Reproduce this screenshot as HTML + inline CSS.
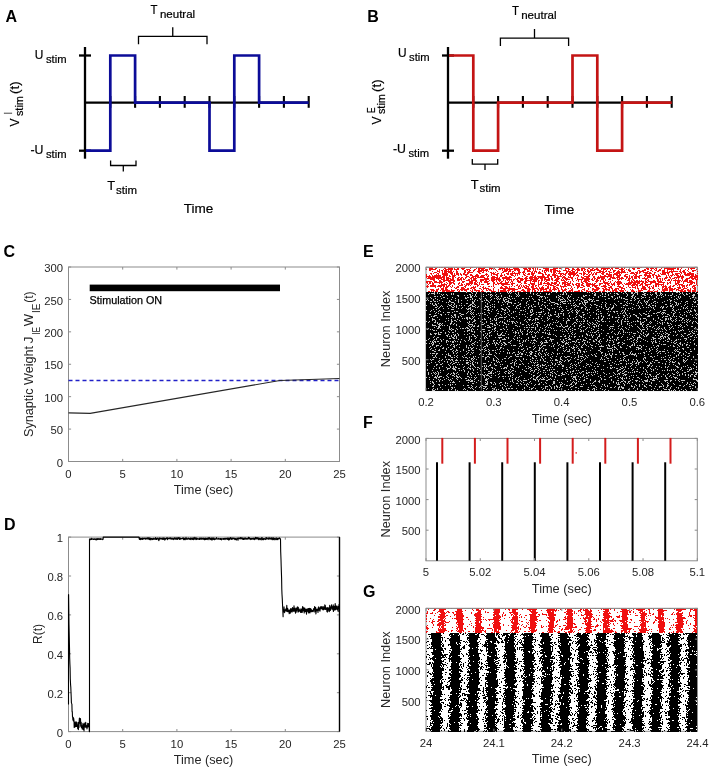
<!DOCTYPE html><html><head><meta charset="utf-8"><style>html,body{margin:0;padding:0;background:#fff;}svg{display:block;will-change:transform}text{font-family:"Liberation Sans", sans-serif;}</style></head><body><svg width="709" height="768" viewBox="0 0 709 768"><rect width="709" height="768" fill="#fff"/><line x1="85" y1="47" x2="85" y2="158.7" stroke="#000" stroke-width="2.3"/>
<line x1="85" y1="102.7" x2="308.70000000000005" y2="102.7" stroke="#000" stroke-width="2.3"/>
<line x1="79" y1="55.5" x2="91" y2="55.5" stroke="#000" stroke-width="2.3"/>
<line x1="79" y1="150.7" x2="91" y2="150.7" stroke="#000" stroke-width="2.3"/>
<line x1="110.3" y1="96" x2="110.3" y2="107.8" stroke="#000" stroke-width="2.1"/>
<line x1="135.1" y1="96" x2="135.1" y2="107.8" stroke="#000" stroke-width="2.1"/>
<line x1="159.9" y1="96" x2="159.9" y2="107.8" stroke="#000" stroke-width="2.1"/>
<line x1="184.7" y1="96" x2="184.7" y2="107.8" stroke="#000" stroke-width="2.1"/>
<line x1="209.5" y1="96" x2="209.5" y2="107.8" stroke="#000" stroke-width="2.1"/>
<line x1="234.3" y1="96" x2="234.3" y2="107.8" stroke="#000" stroke-width="2.1"/>
<line x1="259.1" y1="96" x2="259.1" y2="107.8" stroke="#000" stroke-width="2.1"/>
<line x1="283.9" y1="96" x2="283.9" y2="107.8" stroke="#000" stroke-width="2.1"/>
<line x1="308.70000000000005" y1="96" x2="308.70000000000005" y2="107.8" stroke="#000" stroke-width="2.1"/>
<path d="M86,150.7H110.3V55.5H135.1V102.7H159.9V102.7H184.7V102.7H209.5V150.7H234.3V55.5H259.1V102.7H283.9V102.7H308.70000000000005" fill="none" stroke="#0c0c98" stroke-width="2.7" stroke-linejoin="miter" stroke-linecap="butt"/>
<path d="M138.5,44.3 V36.3 H207 V44.3 M172.75,36.3 V27.299999999999997" fill="none" stroke="#000" stroke-width="1.3"/>
<path d="M110.6,160.5 V165.5 H136 V160.5 M123.3,165.5 V171.5" fill="none" stroke="#000" stroke-width="1.3"/>
<text x="5.6" y="21.5" font-size="16" font-weight="bold" fill="#000">A</text>
<g stroke="#000" stroke-width="0.2">
<text x="150.6" y="13.9" font-size="13.2" textLength="7.0" lengthAdjust="spacingAndGlyphs" fill="#000">T</text>
<text x="159.9" y="17.8" font-size="10.8" textLength="35.3" lengthAdjust="spacingAndGlyphs" fill="#000">neutral</text>
<text x="107.3" y="190.0" font-size="13.2" textLength="7.9" lengthAdjust="spacingAndGlyphs" fill="#000">T</text>
<text x="116.1" y="193.9" font-size="10.8" textLength="21" lengthAdjust="spacingAndGlyphs" fill="#000">stim</text>
<text x="183.7" y="212.8" font-size="13.6" textLength="29.6" lengthAdjust="spacingAndGlyphs" fill="#000">Time</text>
<text x="34.8" y="58.9" font-size="13" textLength="8.6" lengthAdjust="spacingAndGlyphs" fill="#000">U</text>
<text x="45.9" y="62.5" font-size="10.8" textLength="20.6" lengthAdjust="spacingAndGlyphs" fill="#000">stim</text>
<text x="30.4" y="154.2" font-size="13" textLength="13" lengthAdjust="spacingAndGlyphs" fill="#000">-U</text>
<text x="45.9" y="157.5" font-size="10.8" textLength="20.6" lengthAdjust="spacingAndGlyphs" fill="#000">stim</text>
<g transform="translate(18.75,126.6) rotate(-90)">
<text x="0" y="0" font-size="13" textLength="8" lengthAdjust="spacingAndGlyphs" fill="#000">V</text>
<text x="12.3" y="-7" font-size="10.4" textLength="2.2" lengthAdjust="spacingAndGlyphs" fill="#000">I</text>
<text x="10.5" y="4.0" font-size="10.8" textLength="20" lengthAdjust="spacingAndGlyphs" fill="#000">stim</text>
<text x="32.6" y="0" font-size="13" textLength="12.6" lengthAdjust="spacingAndGlyphs" fill="#000">(t)</text>
</g>
</g>
<line x1="448" y1="47" x2="448" y2="158.7" stroke="#000" stroke-width="2.3"/>
<line x1="448" y1="102.7" x2="671.7" y2="102.7" stroke="#000" stroke-width="2.3"/>
<line x1="442" y1="55.5" x2="454" y2="55.5" stroke="#000" stroke-width="2.3"/>
<line x1="442" y1="150.7" x2="454" y2="150.7" stroke="#000" stroke-width="2.3"/>
<line x1="473.3" y1="96" x2="473.3" y2="107.8" stroke="#000" stroke-width="2.1"/>
<line x1="498.1" y1="96" x2="498.1" y2="107.8" stroke="#000" stroke-width="2.1"/>
<line x1="522.9" y1="96" x2="522.9" y2="107.8" stroke="#000" stroke-width="2.1"/>
<line x1="547.7" y1="96" x2="547.7" y2="107.8" stroke="#000" stroke-width="2.1"/>
<line x1="572.5" y1="96" x2="572.5" y2="107.8" stroke="#000" stroke-width="2.1"/>
<line x1="597.3" y1="96" x2="597.3" y2="107.8" stroke="#000" stroke-width="2.1"/>
<line x1="622.1" y1="96" x2="622.1" y2="107.8" stroke="#000" stroke-width="2.1"/>
<line x1="646.9" y1="96" x2="646.9" y2="107.8" stroke="#000" stroke-width="2.1"/>
<line x1="671.7" y1="96" x2="671.7" y2="107.8" stroke="#000" stroke-width="2.1"/>
<path d="M449,55.5H473.3V150.7H498.1V102.7H522.9V102.7H547.7V102.7H572.5V55.5H597.3V150.7H622.1V102.7H646.9V102.7H671.7" fill="none" stroke="#c41414" stroke-width="2.7" stroke-linejoin="miter" stroke-linecap="butt"/>
<path d="M500.4,46.1 V38.1 H568.6 V46.1 M534.5,38.1 V29.1" fill="none" stroke="#000" stroke-width="1.3"/>
<path d="M472.3,159.1 V164.1 H497.7 V159.1 M485.0,164.1 V170.1" fill="none" stroke="#000" stroke-width="1.3"/>
<text x="367.2" y="21.5" font-size="16" font-weight="bold" fill="#000">B</text>
<g stroke="#000" stroke-width="0.2">
<text x="511.9" y="15.2" font-size="13.2" textLength="7.0" lengthAdjust="spacingAndGlyphs" fill="#000">T</text>
<text x="521.1999999999999" y="19.099999999999998" font-size="10.8" textLength="35.3" lengthAdjust="spacingAndGlyphs" fill="#000">neutral</text>
<text x="470.7" y="188.5" font-size="13.2" textLength="7.9" lengthAdjust="spacingAndGlyphs" fill="#000">T</text>
<text x="479.5" y="192.4" font-size="10.8" textLength="21" lengthAdjust="spacingAndGlyphs" fill="#000">stim</text>
<text x="544.6" y="214.3" font-size="13.6" textLength="29.6" lengthAdjust="spacingAndGlyphs" fill="#000">Time</text>
<text x="398.0" y="57.4" font-size="13" textLength="8.6" lengthAdjust="spacingAndGlyphs" fill="#000">U</text>
<text x="409.1" y="61.0" font-size="10.8" textLength="20.6" lengthAdjust="spacingAndGlyphs" fill="#000">stim</text>
<text x="393" y="153.3" font-size="13" textLength="13" lengthAdjust="spacingAndGlyphs" fill="#000">-U</text>
<text x="408.5" y="156.60000000000002" font-size="10.8" textLength="20.6" lengthAdjust="spacingAndGlyphs" fill="#000">stim</text>
<g transform="translate(380.8,124.6) rotate(-90)">
<text x="0" y="0" font-size="13" textLength="8" lengthAdjust="spacingAndGlyphs" fill="#000">V</text>
<text x="11.7" y="-6.2" font-size="10.4" textLength="5.6" lengthAdjust="spacingAndGlyphs" fill="#000">E</text>
<text x="10.5" y="4.0" font-size="10.8" textLength="20" lengthAdjust="spacingAndGlyphs" fill="#000">stim</text>
<text x="32.6" y="0" font-size="13" textLength="12.6" lengthAdjust="spacingAndGlyphs" fill="#000">(t)</text>
</g>
</g>
<text x="3.6" y="256.5" font-size="16" font-weight="bold" fill="#000">C</text>
<rect x="68.5" y="267.0" width="271.0" height="194.5" fill="none" stroke="#8c8c8c" stroke-width="1"/>
<line x1="68.5" y1="461.5" x2="68.5" y2="458.9" stroke="#8c8c8c" stroke-width="1"/>
<line x1="68.5" y1="267.0" x2="68.5" y2="269.6" stroke="#8c8c8c" stroke-width="1"/>
<text x="68.5" y="477.9" font-size="11.3" text-anchor="middle" fill="#262626">0</text>
<line x1="122.7" y1="461.5" x2="122.7" y2="458.9" stroke="#8c8c8c" stroke-width="1"/>
<line x1="122.7" y1="267.0" x2="122.7" y2="269.6" stroke="#8c8c8c" stroke-width="1"/>
<text x="122.7" y="477.9" font-size="11.3" text-anchor="middle" fill="#262626">5</text>
<line x1="176.9" y1="461.5" x2="176.9" y2="458.9" stroke="#8c8c8c" stroke-width="1"/>
<line x1="176.9" y1="267.0" x2="176.9" y2="269.6" stroke="#8c8c8c" stroke-width="1"/>
<text x="176.9" y="477.9" font-size="11.3" text-anchor="middle" fill="#262626">10</text>
<line x1="231.1" y1="461.5" x2="231.1" y2="458.9" stroke="#8c8c8c" stroke-width="1"/>
<line x1="231.1" y1="267.0" x2="231.1" y2="269.6" stroke="#8c8c8c" stroke-width="1"/>
<text x="231.1" y="477.9" font-size="11.3" text-anchor="middle" fill="#262626">15</text>
<line x1="285.3" y1="461.5" x2="285.3" y2="458.9" stroke="#8c8c8c" stroke-width="1"/>
<line x1="285.3" y1="267.0" x2="285.3" y2="269.6" stroke="#8c8c8c" stroke-width="1"/>
<text x="285.3" y="477.9" font-size="11.3" text-anchor="middle" fill="#262626">20</text>
<line x1="339.5" y1="461.5" x2="339.5" y2="458.9" stroke="#8c8c8c" stroke-width="1"/>
<line x1="339.5" y1="267.0" x2="339.5" y2="269.6" stroke="#8c8c8c" stroke-width="1"/>
<text x="339.5" y="477.9" font-size="11.3" text-anchor="middle" fill="#262626">25</text>
<line x1="68.5" y1="461.5" x2="71.1" y2="461.5" stroke="#8c8c8c" stroke-width="1"/>
<line x1="339.5" y1="461.5" x2="336.9" y2="461.5" stroke="#8c8c8c" stroke-width="1"/>
<text x="63.1" y="466.6" font-size="11.3" text-anchor="end" fill="#262626">0</text>
<line x1="68.5" y1="429.0833333333333" x2="71.1" y2="429.0833333333333" stroke="#8c8c8c" stroke-width="1"/>
<line x1="339.5" y1="429.0833333333333" x2="336.9" y2="429.0833333333333" stroke="#8c8c8c" stroke-width="1"/>
<text x="63.1" y="434.18" font-size="11.3" text-anchor="end" fill="#262626">50</text>
<line x1="68.5" y1="396.6666666666667" x2="71.1" y2="396.6666666666667" stroke="#8c8c8c" stroke-width="1"/>
<line x1="339.5" y1="396.6666666666667" x2="336.9" y2="396.6666666666667" stroke="#8c8c8c" stroke-width="1"/>
<text x="63.1" y="401.77" font-size="11.3" text-anchor="end" fill="#262626">100</text>
<line x1="68.5" y1="364.25" x2="71.1" y2="364.25" stroke="#8c8c8c" stroke-width="1"/>
<line x1="339.5" y1="364.25" x2="336.9" y2="364.25" stroke="#8c8c8c" stroke-width="1"/>
<text x="63.1" y="369.35" font-size="11.3" text-anchor="end" fill="#262626">150</text>
<line x1="68.5" y1="331.83333333333337" x2="71.1" y2="331.83333333333337" stroke="#8c8c8c" stroke-width="1"/>
<line x1="339.5" y1="331.83333333333337" x2="336.9" y2="331.83333333333337" stroke="#8c8c8c" stroke-width="1"/>
<text x="63.1" y="336.93" font-size="11.3" text-anchor="end" fill="#262626">200</text>
<line x1="68.5" y1="299.41666666666663" x2="71.1" y2="299.41666666666663" stroke="#8c8c8c" stroke-width="1"/>
<line x1="339.5" y1="299.41666666666663" x2="336.9" y2="299.41666666666663" stroke="#8c8c8c" stroke-width="1"/>
<text x="63.1" y="304.52" font-size="11.3" text-anchor="end" fill="#262626">250</text>
<line x1="68.5" y1="267.0" x2="71.1" y2="267.0" stroke="#8c8c8c" stroke-width="1"/>
<line x1="339.5" y1="267.0" x2="336.9" y2="267.0" stroke="#8c8c8c" stroke-width="1"/>
<text x="63.1" y="272.1" font-size="11.3" text-anchor="end" fill="#262626">300</text>
<text x="173.7" y="494.3" font-size="12.6" textLength="59.6" lengthAdjust="spacingAndGlyphs" fill="#262626">Time (sec)</text>
<g transform="translate(33.0,437) rotate(-90)" fill="#262626">
<text x="0" y="0" font-size="12.6" textLength="91.1" lengthAdjust="spacingAndGlyphs" fill="#262626">Synaptic Weight</text>
<text x="93.4" y="0" font-size="12.6" textLength="7" lengthAdjust="spacingAndGlyphs" fill="#262626">J</text>
<text x="102.2" y="6.9" font-size="10.9" textLength="7.8" lengthAdjust="spacingAndGlyphs" fill="#262626">IE</text>
<text x="110.7" y="0" font-size="12.6" textLength="12.4" lengthAdjust="spacingAndGlyphs" fill="#262626">W</text>
<text x="124.0" y="6.9" font-size="10.9" textLength="9.5" lengthAdjust="spacingAndGlyphs" fill="#262626">IE</text>
<text x="134.2" y="0" font-size="12.6" textLength="11.2" lengthAdjust="spacingAndGlyphs" fill="#262626">(t)</text>
</g>
<rect x="89.7" y="284.6" width="190.3" height="6.6" fill="#000"/>
<text x="89.6" y="303.9" font-size="10.6" textLength="72.5" lengthAdjust="spacingAndGlyphs" fill="#000" stroke="#000" stroke-width="0.25">Stimulation ON</text>
<line x1="68.5" y1="380.4583333333333" x2="339.5" y2="380.4583333333333" stroke="#2020c8" stroke-width="1.5" stroke-dasharray="4 3"/>
<path d="M68.50,412.88 L90.18,413.39 L279.88,380.46 L339.50,378.51" fill="none" stroke="#262626" stroke-width="1.1"/>
<text x="3.9" y="529.8" font-size="16" font-weight="bold" fill="#000">D</text>
<rect x="68.5" y="537.1" width="271.0" height="194.5" fill="none" stroke="#8c8c8c" stroke-width="1"/>
<line x1="68.5" y1="731.6" x2="68.5" y2="729.0" stroke="#8c8c8c" stroke-width="1"/>
<line x1="68.5" y1="537.1" x2="68.5" y2="539.7" stroke="#8c8c8c" stroke-width="1"/>
<text x="68.5" y="748.0" font-size="11.3" text-anchor="middle" fill="#262626">0</text>
<line x1="122.7" y1="731.6" x2="122.7" y2="729.0" stroke="#8c8c8c" stroke-width="1"/>
<line x1="122.7" y1="537.1" x2="122.7" y2="539.7" stroke="#8c8c8c" stroke-width="1"/>
<text x="122.7" y="748.0" font-size="11.3" text-anchor="middle" fill="#262626">5</text>
<line x1="176.9" y1="731.6" x2="176.9" y2="729.0" stroke="#8c8c8c" stroke-width="1"/>
<line x1="176.9" y1="537.1" x2="176.9" y2="539.7" stroke="#8c8c8c" stroke-width="1"/>
<text x="176.9" y="748.0" font-size="11.3" text-anchor="middle" fill="#262626">10</text>
<line x1="231.1" y1="731.6" x2="231.1" y2="729.0" stroke="#8c8c8c" stroke-width="1"/>
<line x1="231.1" y1="537.1" x2="231.1" y2="539.7" stroke="#8c8c8c" stroke-width="1"/>
<text x="231.1" y="748.0" font-size="11.3" text-anchor="middle" fill="#262626">15</text>
<line x1="285.3" y1="731.6" x2="285.3" y2="729.0" stroke="#8c8c8c" stroke-width="1"/>
<line x1="285.3" y1="537.1" x2="285.3" y2="539.7" stroke="#8c8c8c" stroke-width="1"/>
<text x="285.3" y="748.0" font-size="11.3" text-anchor="middle" fill="#262626">20</text>
<line x1="339.5" y1="731.6" x2="339.5" y2="729.0" stroke="#8c8c8c" stroke-width="1"/>
<line x1="339.5" y1="537.1" x2="339.5" y2="539.7" stroke="#8c8c8c" stroke-width="1"/>
<text x="339.5" y="748.0" font-size="11.3" text-anchor="middle" fill="#262626">25</text>
<line x1="68.5" y1="731.6" x2="71.1" y2="731.6" stroke="#8c8c8c" stroke-width="1"/>
<line x1="339.5" y1="731.6" x2="336.9" y2="731.6" stroke="#8c8c8c" stroke-width="1"/>
<text x="63.1" y="736.7" font-size="11.3" text-anchor="end" fill="#262626">0</text>
<line x1="68.5" y1="692.7" x2="71.1" y2="692.7" stroke="#8c8c8c" stroke-width="1"/>
<line x1="339.5" y1="692.7" x2="336.9" y2="692.7" stroke="#8c8c8c" stroke-width="1"/>
<text x="63.1" y="697.8" font-size="11.3" text-anchor="end" fill="#262626">0.2</text>
<line x1="68.5" y1="653.8" x2="71.1" y2="653.8" stroke="#8c8c8c" stroke-width="1"/>
<line x1="339.5" y1="653.8" x2="336.9" y2="653.8" stroke="#8c8c8c" stroke-width="1"/>
<text x="63.1" y="658.9" font-size="11.3" text-anchor="end" fill="#262626">0.4</text>
<line x1="68.5" y1="614.9000000000001" x2="71.1" y2="614.9000000000001" stroke="#8c8c8c" stroke-width="1"/>
<line x1="339.5" y1="614.9000000000001" x2="336.9" y2="614.9000000000001" stroke="#8c8c8c" stroke-width="1"/>
<text x="63.1" y="620.0" font-size="11.3" text-anchor="end" fill="#262626">0.6</text>
<line x1="68.5" y1="576.0" x2="71.1" y2="576.0" stroke="#8c8c8c" stroke-width="1"/>
<line x1="339.5" y1="576.0" x2="336.9" y2="576.0" stroke="#8c8c8c" stroke-width="1"/>
<text x="63.1" y="581.1" font-size="11.3" text-anchor="end" fill="#262626">0.8</text>
<line x1="68.5" y1="537.1" x2="71.1" y2="537.1" stroke="#8c8c8c" stroke-width="1"/>
<line x1="339.5" y1="537.1" x2="336.9" y2="537.1" stroke="#8c8c8c" stroke-width="1"/>
<text x="63.1" y="542.2" font-size="11.3" text-anchor="end" fill="#262626">1</text>
<text x="173.7" y="763.8" font-size="12.6" textLength="59.6" lengthAdjust="spacingAndGlyphs" fill="#262626">Time (sec)</text>
<g transform="translate(41.9,643.9) rotate(-90)">
<text x="0" y="0" font-size="12.4" textLength="19.8" lengthAdjust="spacingAndGlyphs" fill="#262626">R(t)</text>
</g>
<path d="M68.5,704.4 L68.5,595.5 L68.6,594.6 L68.8,609.3 L69.0,624.4 L69.3,638.0 L69.5,647.5 L69.7,658.2 L69.9,663.9 L70.1,667.9 L70.3,679.0 L70.6,685.0 L70.8,687.2 L71.0,692.0 L71.2,696.5 L71.4,702.6 L71.6,703.4 L71.9,704.2 L72.1,711.7 L72.3,711.6 L72.5,717.1 L72.7,717.2 L72.9,720.0 L73.2,717.2 L73.4,720.9 L73.6,718.0 L73.8,719.2 L74.0,720.8 L74.2,727.4 L74.5,723.0 L74.7,722.3 L74.9,722.4 L75.1,726.9 L75.3,724.6 L75.5,726.2 L75.8,726.1 L76.0,721.6 L76.2,726.5 L76.4,724.8 L76.6,722.6 L76.8,726.5 L77.1,725.4 L77.3,725.0 L77.5,725.2 L77.7,728.6 L77.9,725.4 L78.1,722.2 L78.4,729.6 L78.6,723.6 L78.8,725.5 L79.0,727.4 L79.2,720.8 L79.4,718.1 L79.7,723.1 L79.9,719.9 L80.1,718.7 L80.3,720.6 L80.5,718.5 L80.7,726.2 L81.0,724.4 L81.2,722.4 L81.4,727.8 L81.6,725.6 L81.8,727.3 L82.0,725.8 L82.3,729.1 L82.5,727.6 L82.7,726.6 L82.9,723.8 L83.1,723.2 L83.4,729.5 L83.6,728.1 L83.8,724.5 L84.0,731.0 L84.2,727.3 L84.4,726.4 L84.7,723.0 L84.9,724.4 L85.1,727.0 L85.3,727.1 L85.5,726.8 L85.7,722.3 L86.0,727.2 L86.2,726.9 L86.4,725.3 L86.6,726.5 L86.8,726.6 L87.0,729.0 L87.3,726.2 L87.5,727.3 L87.7,723.2 L87.9,724.5 L88.1,726.2 L88.3,724.5 L88.6,727.0 L88.8,723.5 L89.0,726.2 L89.2,724.7 L89.3,731.6 L89.5,731.6 L89.5,539.0 L89.7,539.5 L90.0,538.9 L90.2,539.7 L90.4,539.8 L90.6,539.2 L90.8,539.4 L91.0,539.0 L91.3,538.2 L91.5,539.4 L91.7,539.3 L91.9,539.0 L92.1,538.9 L92.3,539.1 L92.6,539.1 L92.8,538.8 L93.0,538.8 L93.2,539.4 L93.4,539.1 L93.6,539.0 L93.9,539.5 L94.1,538.9 L94.3,539.4 L94.5,538.7 L94.7,539.0 L94.9,539.0 L95.2,539.3 L95.4,539.1 L95.6,539.8 L95.8,539.5 L96.0,538.9 L96.3,539.9 L96.5,538.7 L96.7,539.7 L96.9,538.8 L97.1,539.4 L97.3,538.7 L97.6,539.0 L97.8,539.6 L98.0,538.6 L98.2,538.5 L98.4,539.1 L98.6,539.2 L98.9,539.1 L99.1,539.4 L99.3,538.6 L99.5,539.3 L99.7,539.1 L99.9,539.4 L100.2,539.3 L100.4,539.5 L100.6,538.6 L100.8,539.1 L101.0,538.7 L101.2,539.0 L101.5,539.3 L101.7,539.2 L101.9,539.3 L102.1,539.0 L102.3,539.2 L102.5,539.2 L102.8,539.6 L103.0,539.4 L103.2,538.4 L103.2,537.1 L139.0,537.1 L139.2,539.0 L139.4,539.3 L139.6,538.5 L139.8,537.8 L140.0,539.5 L140.3,538.8 L140.5,539.0 L140.7,539.7 L140.9,538.2 L141.1,538.7 L141.3,538.6 L141.6,539.1 L141.8,538.4 L142.0,539.0 L142.2,538.7 L142.4,539.3 L142.6,539.4 L142.9,537.9 L143.1,539.0 L143.3,538.5 L143.5,538.7 L143.7,538.9 L143.9,539.0 L144.2,538.3 L144.4,538.8 L144.6,538.7 L144.8,538.6 L145.0,538.0 L145.2,538.3 L145.5,538.4 L145.7,539.0 L145.9,539.5 L146.1,538.1 L146.3,538.1 L146.5,538.7 L146.8,538.3 L147.0,538.2 L147.2,538.2 L147.4,538.1 L147.6,538.9 L147.8,537.8 L148.1,539.4 L148.3,538.2 L148.5,538.4 L148.7,538.1 L148.9,537.6 L149.1,537.8 L149.4,539.3 L149.6,539.6 L149.8,538.2 L150.0,539.2 L150.2,538.7 L150.5,538.2 L150.7,539.6 L150.9,539.9 L151.1,538.5 L151.3,538.6 L151.5,538.8 L151.8,538.6 L152.0,539.2 L152.2,539.5 L152.4,538.8 L152.6,539.2 L152.8,539.6 L153.1,538.4 L153.3,538.7 L153.5,538.4 L153.7,539.2 L153.9,539.0 L154.1,539.2 L154.4,539.2 L154.6,538.5 L154.8,539.1 L155.0,538.4 L155.2,538.5 L155.4,537.5 L155.7,539.5 L155.9,538.1 L156.1,538.7 L156.3,538.7 L156.5,539.5 L156.7,538.9 L157.0,538.2 L157.2,538.7 L157.4,538.6 L157.6,538.8 L157.8,538.0 L158.0,538.7 L158.3,539.9 L158.5,539.1 L158.7,539.8 L158.9,540.6 L159.1,539.0 L159.3,537.9 L159.6,538.6 L159.8,539.3 L160.0,539.2 L160.2,538.0 L160.4,538.6 L160.6,538.6 L160.9,538.7 L161.1,538.6 L161.3,538.2 L161.5,538.3 L161.7,538.5 L161.9,539.3 L162.2,538.4 L162.4,539.1 L162.6,538.0 L162.8,539.4 L163.0,538.7 L163.2,538.7 L163.5,539.4 L163.7,537.7 L163.9,537.8 L164.1,538.9 L164.3,538.2 L164.5,538.4 L164.8,540.2 L165.0,538.5 L165.2,538.7 L165.4,538.6 L165.6,539.3 L165.8,538.8 L166.1,538.8 L166.3,538.0 L166.5,538.5 L166.7,538.7 L166.9,537.8 L167.1,539.0 L167.4,538.9 L167.6,539.7 L167.8,537.7 L168.0,538.1 L168.2,538.1 L168.4,538.3 L168.7,538.6 L168.9,538.5 L169.1,538.8 L169.3,538.8 L169.5,538.6 L169.7,537.8 L170.0,538.3 L170.2,538.7 L170.4,539.0 L170.6,539.0 L170.8,537.7 L171.0,538.4 L171.3,538.6 L171.5,538.9 L171.7,539.3 L171.9,538.7 L172.1,538.1 L172.3,538.9 L172.6,538.8 L172.8,538.8 L173.0,538.6 L173.2,539.6 L173.4,538.8 L173.6,539.2 L173.9,538.1 L174.1,539.1 L174.3,538.3 L174.5,537.8 L174.7,538.8 L174.9,539.0 L175.2,538.5 L175.4,538.7 L175.6,539.2 L175.8,538.4 L176.0,537.5 L176.2,538.8 L176.5,538.8 L176.7,539.3 L176.9,538.5 L177.1,539.4 L177.3,539.3 L177.6,537.9 L177.8,539.2 L178.0,538.0 L178.2,537.8 L178.4,538.5 L178.6,538.3 L178.9,537.5 L179.1,538.8 L179.3,539.0 L179.5,539.4 L179.7,538.6 L179.9,537.8 L180.2,538.1 L180.4,539.2 L180.6,539.2 L180.8,539.0 L181.0,538.5 L181.2,538.8 L181.5,538.5 L181.7,538.5 L181.9,538.8 L182.1,538.7 L182.3,538.5 L182.5,538.7 L182.8,538.4 L183.0,537.6 L183.2,538.3 L183.4,538.6 L183.6,539.6 L183.8,538.4 L184.1,539.8 L184.3,539.5 L184.5,538.2 L184.7,538.2 L184.9,538.7 L185.1,539.7 L185.4,538.9 L185.6,539.1 L185.8,538.3 L186.0,537.3 L186.2,538.5 L186.4,539.1 L186.7,539.3 L186.9,538.7 L187.1,538.8 L187.3,539.3 L187.5,538.6 L187.7,539.3 L188.0,538.0 L188.2,538.0 L188.4,538.0 L188.6,538.9 L188.8,538.4 L189.0,538.7 L189.3,538.9 L189.5,538.9 L189.7,539.4 L189.9,539.5 L190.1,538.2 L190.3,538.8 L190.6,538.5 L190.8,538.1 L191.0,539.7 L191.2,539.1 L191.4,538.6 L191.6,538.4 L191.9,538.9 L192.1,538.1 L192.3,538.5 L192.5,539.4 L192.7,539.2 L192.9,538.2 L193.2,538.4 L193.4,539.8 L193.6,537.9 L193.8,538.3 L194.0,537.9 L194.2,538.9 L194.5,538.8 L194.7,539.3 L194.9,537.2 L195.1,538.8 L195.3,537.7 L195.5,539.0 L195.8,538.6 L196.0,539.6 L196.2,538.9 L196.4,538.1 L196.6,539.4 L196.8,538.0 L197.1,538.5 L197.3,539.3 L197.5,538.9 L197.7,538.9 L197.9,538.7 L198.1,539.0 L198.4,539.1 L198.6,538.8 L198.8,539.3 L199.0,539.4 L199.2,538.7 L199.4,538.1 L199.7,539.5 L199.9,538.7 L200.1,539.0 L200.3,539.2 L200.5,538.2 L200.7,539.0 L201.0,537.8 L201.2,539.1 L201.4,538.4 L201.6,538.8 L201.8,539.1 L202.0,538.3 L202.3,538.7 L202.5,538.3 L202.7,538.7 L202.9,539.3 L203.1,538.7 L203.3,538.6 L203.6,538.1 L203.8,539.2 L204.0,538.7 L204.2,539.7 L204.4,538.3 L204.7,539.3 L204.9,539.7 L205.1,538.7 L205.3,538.0 L205.5,539.5 L205.7,539.3 L206.0,539.1 L206.2,539.3 L206.4,538.4 L206.6,539.1 L206.8,539.1 L207.0,538.3 L207.3,539.1 L207.5,538.4 L207.7,539.2 L207.9,539.4 L208.1,539.7 L208.3,537.6 L208.6,538.8 L208.8,538.5 L209.0,538.7 L209.2,538.6 L209.4,538.6 L209.6,537.5 L209.9,539.3 L210.1,539.6 L210.3,539.2 L210.5,539.4 L210.7,538.2 L210.9,538.2 L211.2,539.2 L211.4,539.5 L211.6,538.9 L211.8,537.8 L212.0,540.3 L212.2,538.3 L212.5,539.3 L212.7,538.0 L212.9,539.3 L213.1,538.8 L213.3,539.5 L213.5,539.2 L213.8,537.8 L214.0,538.2 L214.2,538.9 L214.4,539.2 L214.6,539.8 L214.8,538.9 L215.1,538.7 L215.3,538.7 L215.5,538.7 L215.7,539.3 L215.9,538.7 L216.1,538.7 L216.4,537.9 L216.6,537.6 L216.8,538.7 L217.0,539.1 L217.2,538.7 L217.4,539.0 L217.7,539.1 L217.9,538.7 L218.1,539.3 L218.3,538.3 L218.5,538.7 L218.7,538.5 L219.0,538.8 L219.2,539.1 L219.4,539.2 L219.6,538.8 L219.8,539.0 L220.0,538.5 L220.3,538.7 L220.5,539.5 L220.7,538.6 L220.9,539.4 L221.1,539.0 L221.3,538.8 L221.6,539.9 L221.8,538.6 L222.0,538.6 L222.2,538.7 L222.4,538.9 L222.6,538.9 L222.9,539.2 L223.1,538.8 L223.3,539.0 L223.5,538.6 L223.7,539.4 L223.9,538.5 L224.2,538.6 L224.4,538.7 L224.6,538.9 L224.8,538.3 L225.0,539.6 L225.2,538.4 L225.5,538.5 L225.7,538.5 L225.9,538.4 L226.1,539.0 L226.3,538.8 L226.5,538.3 L226.8,538.4 L227.0,538.5 L227.2,539.5 L227.4,538.3 L227.6,538.0 L227.8,538.1 L228.1,538.5 L228.3,539.6 L228.5,538.1 L228.7,538.7 L228.9,540.1 L229.1,538.4 L229.4,539.5 L229.6,539.4 L229.8,539.0 L230.0,537.9 L230.2,538.9 L230.4,538.5 L230.7,537.6 L230.9,537.7 L231.1,538.7 L231.3,538.8 L231.5,539.4 L231.8,539.1 L232.0,538.4 L232.2,538.4 L232.4,538.6 L232.6,538.1 L232.8,539.1 L233.1,538.7 L233.3,538.2 L233.5,538.3 L233.7,538.0 L233.9,538.4 L234.1,538.8 L234.4,538.4 L234.6,539.2 L234.8,539.6 L235.0,538.3 L235.2,538.7 L235.4,538.5 L235.7,539.6 L235.9,538.9 L236.1,539.0 L236.3,539.2 L236.5,540.0 L236.7,538.9 L237.0,538.1 L237.2,538.4 L237.4,539.0 L237.6,538.7 L237.8,538.2 L238.0,540.3 L238.3,538.7 L238.5,538.3 L238.7,538.3 L238.9,537.7 L239.1,538.0 L239.3,538.5 L239.6,538.5 L239.8,538.2 L240.0,539.0 L240.2,538.7 L240.4,538.1 L240.6,537.5 L240.9,538.7 L241.1,538.7 L241.3,538.5 L241.5,537.9 L241.7,538.7 L241.9,537.8 L242.2,539.2 L242.4,538.8 L242.6,538.8 L242.8,538.2 L243.0,538.0 L243.2,539.5 L243.5,539.2 L243.7,538.5 L243.9,539.0 L244.1,539.5 L244.3,538.1 L244.5,538.4 L244.8,538.4 L245.0,538.9 L245.2,538.1 L245.4,538.8 L245.6,538.0 L245.8,539.2 L246.1,539.2 L246.3,538.5 L246.5,539.1 L246.7,538.3 L246.9,538.5 L247.1,539.2 L247.4,538.6 L247.6,538.9 L247.8,538.1 L248.0,539.0 L248.2,538.9 L248.4,537.9 L248.7,537.3 L248.9,537.5 L249.1,538.6 L249.3,538.5 L249.5,537.8 L249.7,538.7 L250.0,539.2 L250.2,538.6 L250.4,538.4 L250.6,539.1 L250.8,539.6 L251.0,539.5 L251.3,538.3 L251.5,539.1 L251.7,538.7 L251.9,538.5 L252.1,538.3 L252.3,538.9 L252.6,538.4 L252.8,539.2 L253.0,538.9 L253.2,539.3 L253.4,538.0 L253.6,538.7 L253.9,539.1 L254.1,538.9 L254.3,538.8 L254.5,538.2 L254.7,539.6 L254.9,539.3 L255.2,538.9 L255.4,537.2 L255.6,538.1 L255.8,538.7 L256.0,538.2 L256.2,537.5 L256.5,538.8 L256.7,538.9 L256.9,537.9 L257.1,538.4 L257.3,538.3 L257.5,539.0 L257.8,537.5 L258.0,537.7 L258.2,538.3 L258.4,538.3 L258.6,539.8 L258.9,538.3 L259.1,538.8 L259.3,538.4 L259.5,538.3 L259.7,538.9 L259.9,539.6 L260.2,538.4 L260.4,539.1 L260.6,538.8 L260.8,539.0 L261.0,538.9 L261.2,540.0 L261.5,537.9 L261.7,538.5 L261.9,538.0 L262.1,537.5 L262.3,538.6 L262.5,539.7 L262.8,539.2 L263.0,539.4 L263.2,538.9 L263.4,538.6 L263.6,539.8 L263.8,538.5 L264.1,539.5 L264.3,538.5 L264.5,538.7 L264.7,538.8 L264.9,538.7 L265.1,539.0 L265.4,539.0 L265.6,539.6 L265.8,538.7 L266.0,537.6 L266.2,537.5 L266.4,537.9 L266.7,538.2 L266.9,539.1 L267.1,537.8 L267.3,538.7 L267.5,538.7 L267.7,538.8 L268.0,538.6 L268.2,538.9 L268.4,538.7 L268.6,539.3 L268.8,538.9 L269.0,537.3 L269.3,538.7 L269.5,538.8 L269.7,538.3 L269.9,538.2 L270.1,539.3 L270.3,538.8 L270.6,538.1 L270.8,538.5 L271.0,538.6 L271.2,537.7 L271.4,539.1 L271.6,538.6 L271.9,539.0 L272.1,537.8 L272.3,539.8 L272.5,539.0 L272.7,539.0 L272.9,538.3 L273.2,538.3 L273.4,537.8 L273.6,539.6 L273.8,538.2 L274.0,538.8 L274.2,539.0 L274.5,538.3 L274.7,539.2 L274.9,539.9 L275.1,538.9 L275.3,539.5 L275.5,539.0 L275.8,538.4 L276.0,538.5 L276.2,537.7 L276.4,538.8 L276.6,539.6 L276.8,539.1 L277.1,539.2 L277.3,539.4 L277.5,538.4 L277.7,539.0 L277.9,539.8 L278.1,538.2 L278.4,538.7 L278.6,538.4 L278.8,538.6 L279.0,538.3 L279.2,538.6 L279.4,537.9 L279.7,538.4 L279.9,538.4 L280.1,538.4 L280.3,539.5 L280.5,539.0 L280.7,551.7 L281.0,559.6 L281.2,566.3 L281.4,572.4 L281.6,578.0 L281.8,589.2 L282.0,594.2 L282.3,599.1 L282.5,603.7 L282.7,608.2 L282.9,612.6 L283.1,616.8 L283.1,609.8 L283.3,610.0 L283.6,609.2 L283.8,611.9 L284.0,606.7 L284.2,609.4 L284.4,611.7 L284.6,612.6 L284.9,610.1 L285.1,609.8 L285.3,610.9 L285.5,609.5 L285.7,610.8 L286.0,608.7 L286.2,611.0 L286.4,609.8 L286.6,608.0 L286.8,605.3 L287.0,611.5 L287.3,610.6 L287.5,611.3 L287.7,608.4 L287.9,611.8 L288.1,610.7 L288.3,609.9 L288.6,611.6 L288.8,611.5 L289.0,610.7 L289.2,613.6 L289.4,612.4 L289.6,610.6 L289.9,609.7 L290.1,610.3 L290.3,613.1 L290.5,610.8 L290.7,608.6 L290.9,609.0 L291.2,610.1 L291.4,611.6 L291.6,608.9 L291.8,611.1 L292.0,612.1 L292.2,611.5 L292.5,607.5 L292.7,609.7 L292.9,608.1 L293.1,611.0 L293.3,608.5 L293.5,611.2 L293.8,610.4 L294.0,605.8 L294.2,608.8 L294.4,611.1 L294.6,610.3 L294.8,609.6 L295.1,608.1 L295.3,611.1 L295.5,613.3 L295.7,610.7 L295.9,610.2 L296.1,610.1 L296.4,608.0 L296.6,609.7 L296.8,608.9 L297.0,612.2 L297.2,608.8 L297.4,606.7 L297.7,609.0 L297.9,609.9 L298.1,610.1 L298.3,607.2 L298.5,612.0 L298.7,610.6 L299.0,609.6 L299.2,609.1 L299.4,611.2 L299.6,609.9 L299.8,610.9 L300.0,610.2 L300.3,610.7 L300.5,612.4 L300.7,610.5 L300.9,608.9 L301.1,612.2 L301.3,610.9 L301.6,609.3 L301.8,612.4 L302.0,610.2 L302.2,612.4 L302.4,608.5 L302.6,606.5 L302.9,607.0 L303.1,610.9 L303.3,609.2 L303.5,610.3 L303.7,610.4 L303.9,607.8 L304.2,612.9 L304.4,608.7 L304.6,610.6 L304.8,608.1 L305.0,610.2 L305.2,611.7 L305.5,610.1 L305.7,609.3 L305.9,610.5 L306.1,609.7 L306.3,611.5 L306.5,614.3 L306.8,609.0 L307.0,609.4 L307.2,610.3 L307.4,610.5 L307.6,608.8 L307.8,611.4 L308.1,611.8 L308.3,610.9 L308.5,608.5 L308.7,613.0 L308.9,608.5 L309.1,611.7 L309.4,612.5 L309.6,608.4 L309.8,610.8 L310.0,612.9 L310.2,611.2 L310.4,609.0 L310.7,608.5 L310.9,611.4 L311.1,609.9 L311.3,609.4 L311.5,611.7 L311.7,610.0 L312.0,610.7 L312.2,611.6 L312.4,611.5 L312.6,610.5 L312.8,610.6 L313.1,611.6 L313.3,611.4 L313.5,608.7 L313.7,610.2 L313.9,609.1 L314.1,608.5 L314.4,609.6 L314.6,606.6 L314.8,612.0 L315.0,609.2 L315.2,611.1 L315.4,607.3 L315.7,607.6 L315.9,614.0 L316.1,612.3 L316.3,609.4 L316.5,609.2 L316.7,609.3 L317.0,610.7 L317.2,609.8 L317.4,609.4 L317.6,610.7 L317.8,608.7 L318.0,612.5 L318.3,607.5 L318.5,610.4 L318.7,606.9 L318.9,609.0 L319.1,610.1 L319.3,607.9 L319.6,610.1 L319.8,610.1 L320.0,611.3 L320.2,608.6 L320.4,607.6 L320.6,606.7 L320.9,608.8 L321.1,606.7 L321.3,608.5 L321.5,608.6 L321.7,607.5 L321.9,606.6 L322.2,609.1 L322.4,608.9 L322.6,608.7 L322.8,608.3 L323.0,610.0 L323.2,606.6 L323.5,609.1 L323.7,607.6 L323.9,609.8 L324.1,607.8 L324.3,607.7 L324.5,609.1 L324.8,604.8 L325.0,607.7 L325.2,605.2 L325.4,606.6 L325.6,609.5 L325.8,609.0 L326.1,607.5 L326.3,608.2 L326.5,608.2 L326.7,608.8 L326.9,611.4 L327.1,608.6 L327.4,612.1 L327.6,607.6 L327.8,609.5 L328.0,609.4 L328.2,608.6 L328.4,607.7 L328.7,610.7 L328.9,611.2 L329.1,610.0 L329.3,611.7 L329.5,609.8 L329.7,605.3 L330.0,609.9 L330.2,606.9 L330.4,610.5 L330.6,607.5 L330.8,608.6 L331.0,608.1 L331.3,607.0 L331.5,604.9 L331.7,607.7 L331.9,607.8 L332.1,609.7 L332.3,606.9 L332.6,608.4 L332.8,606.5 L333.0,608.0 L333.2,604.9 L333.4,611.4 L333.6,608.4 L333.9,606.3 L334.1,608.5 L334.3,609.2 L334.5,608.3 L334.7,610.2 L334.9,607.6 L335.2,603.5 L335.4,605.8 L335.6,609.7 L335.8,609.3 L336.0,608.4 L336.2,606.0 L336.5,609.1 L336.7,608.9 L336.9,606.1 L337.1,606.1 L337.3,608.3 L337.5,609.6 L337.8,610.3 L338.0,608.8 L338.2,611.5 L338.4,606.3 L338.6,608.7 L338.8,606.7 L339.1,604.3 L339.3,605.5 L339.5,609.1" fill="none" stroke="#000" stroke-width="1.1" stroke-linejoin="round"/>
<line x1="339.5" y1="537.1" x2="339.5" y2="731.6" stroke="#000" stroke-width="1.4"/>
<rect x="426.0" y="267.3" width="271.29999999999995" height="123.30000000000001" fill="none" stroke="#8c8c8c" stroke-width="1"/>
<g shape-rendering="crispEdges">
<path d="M428.5 267.5h4m1 0h1m2 0h1m1 0h1m1 0h2m1 0h5m2 0h1m4 0h1m5 0h1m1 0h3m3 0h3m5 0h3m2 0h3m3 0h2m7 0h2m1 0h1m2 0h2m1 0h1m2 0h2m1 0h5m3 0h2m2 0h2m1 0h4m1 0h3m1 0h1m3 0h3m2 0h1m6 0h2m1 0h2m4 0h1m2 0h3m1 0h2m4 0h5m2 0h3m1 0h3m1 0h3m3 0h2m2 0h1m1 0h3m3 0h1m2 0h8m2 0h1m2 0h1m4 0h1m5 0h1m1 0h2m1 0h2m3 0h3m3 0h2m3 0h2m4 0h1m1 0h1m1 0h4m3 0h1m1 0h1m1 0h7m2 0h4m1 0h6M428.5 268.5h4m2 0h2m7 0h2m2 0h5m1 0h1m2 0h2m2 0h4m5 0h1m5 0h1m1 0h7m4 0h4m1 0h1m4 0h6m1 0h2m1 0h1m3 0h6m4 0h4m1 0h3m1 0h2m1 0h1m1 0h1m5 0h6m4 0h5m1 0h2m4 0h4m3 0h2m3 0h2m2 0h4m3 0h2m2 0h2m2 0h2m3 0h9m1 0h2m2 0h4m2 0h2m1 0h1m7 0h3m2 0h3m6 0h3m1 0h4m1 0h2m4 0h1m2 0h12m1 0h2m2 0h1m6 0h1m1 0h5M425.5 269.5h1m2 0h7m3 0h1m3 0h1m1 0h8m1 0h5m3 0h2m2 0h4m4 0h2m2 0h2m1 0h3m1 0h3m1 0h1m1 0h1m1 0h1m1 0h1m2 0h3m1 0h1m1 0h9m1 0h6m4 0h4m1 0h2m2 0h1m1 0h1m1 0h1m1 0h2m4 0h4m1 0h6m9 0h1m2 0h2m2 0h3m1 0h4m1 0h2m1 0h2m1 0h1m2 0h3m1 0h5m2 0h1m1 0h3m1 0h1m2 0h1m1 0h1m6 0h5m2 0h1m1 0h2m3 0h2m9 0h2m1 0h2m2 0h1m2 0h1m1 0h1m2 0h2m3 0h1m2 0h7m3 0h2m1 0h1m4 0h1m2 0h1m2 0h1m4 0h1M428.5 270.5h2m6 0h1m1 0h1m1 0h2m1 0h3m1 0h1m1 0h2m4 0h1m7 0h2m1 0h1m1 0h2m2 0h2m3 0h10m8 0h1m5 0h1m1 0h4m1 0h2m3 0h2m1 0h3m4 0h1m2 0h3m3 0h1m1 0h1m6 0h1m1 0h5m1 0h2m1 0h5m1 0h1m3 0h4m1 0h1m2 0h2m2 0h1m1 0h3m1 0h2m1 0h1m2 0h2m1 0h5m2 0h4m2 0h1m2 0h1m3 0h1m2 0h3m2 0h1m2 0h2m1 0h1m3 0h3m7 0h2m2 0h4m4 0h2m3 0h2m1 0h3m1 0h3m2 0h1m3 0h1m1 0h1m6 0h1m2 0h2m2 0h1m4 0h4M431.5 271.5h1m4 0h3m2 0h1m1 0h8m1 0h1m2 0h2m6 0h2m2 0h2m3 0h1m3 0h5m1 0h1m2 0h1m1 0h1m8 0h1m5 0h4m1 0h3m1 0h2m4 0h2m3 0h2m2 0h4m1 0h1m1 0h3m2 0h1m2 0h1m1 0h1m1 0h1m1 0h1m1 0h2m1 0h3m1 0h4m5 0h5m1 0h3m2 0h1m5 0h1m1 0h1m1 0h4m8 0h5m1 0h2m1 0h2m3 0h2m2 0h3m1 0h4m4 0h2m6 0h1m1 0h5m3 0h2m3 0h1m4 0h2m3 0h3m2 0h1m1 0h9m1 0h2m1 0h3m3 0h1m3 0h2m3 0h1M433.5 272.5h3m2 0h1m2 0h1m1 0h3m1 0h5m3 0h2m6 0h2m1 0h6m5 0h2m2 0h2m6 0h2m1 0h1m1 0h1m6 0h2m4 0h1m3 0h1m1 0h1m3 0h3m1 0h3m6 0h2m1 0h1m1 0h1m1 0h3m3 0h2m5 0h1m1 0h3m3 0h1m6 0h2m1 0h6m1 0h2m5 0h2m3 0h2m1 0h1m2 0h1m1 0h5m1 0h3m4 0h3m1 0h1m2 0h10m1 0h1m3 0h3m1 0h3m1 0h2m2 0h5m1 0h2m3 0h2m6 0h8m1 0h2m7 0h2m1 0h3m3 0h2M429.5 273.5h2m1 0h1m3 0h2m3 0h6m2 0h3m1 0h1m1 0h3m1 0h1m2 0h2m2 0h2m10 0h2m5 0h1m4 0h4m2 0h2m2 0h1m4 0h3m1 0h10m3 0h1m1 0h1m2 0h2m1 0h4m3 0h5m2 0h1m7 0h2m1 0h1m1 0h6m1 0h2m1 0h9m2 0h3m1 0h3m2 0h1m2 0h1m1 0h1m1 0h2m4 0h3m2 0h2m1 0h1m4 0h6m1 0h1m8 0h5m1 0h2m1 0h1m5 0h7m2 0h1m5 0h1m1 0h4m1 0h2m3 0h1m2 0h5m1 0h1m2 0h2m1 0h7m3 0h1M425.5 274.5h1m4 0h1m4 0h1m1 0h1m3 0h6m3 0h2m1 0h1m1 0h3m1 0h2m1 0h5m2 0h2m4 0h2m7 0h3m3 0h1m1 0h5m3 0h1m2 0h1m2 0h2m1 0h3m2 0h1m1 0h1m1 0h1m3 0h2m2 0h3m1 0h3m8 0h2m1 0h2m1 0h2m2 0h4m4 0h2m1 0h3m2 0h8m1 0h1m3 0h1m1 0h2m1 0h2m1 0h2m1 0h2m1 0h2m5 0h2m2 0h6m1 0h5m1 0h2m4 0h3m6 0h3m7 0h3m2 0h1m2 0h3m3 0h1m2 0h5m2 0h1m3 0h2m1 0h3m2 0h1m3 0h10m1 0h1M425.5 275.5h1m2 0h1m2 0h1m1 0h7m2 0h5m1 0h1m2 0h4m2 0h1m2 0h1m3 0h2m3 0h3m2 0h4m2 0h4m1 0h1m1 0h1m2 0h1m4 0h2m2 0h3m1 0h1m6 0h3m1 0h1m1 0h1m6 0h2m6 0h2m1 0h1m6 0h2m3 0h3m2 0h6m2 0h1m1 0h1m2 0h1m3 0h2m2 0h2m1 0h3m4 0h1m4 0h2m2 0h1m7 0h1m3 0h2m2 0h4m1 0h1m2 0h5m3 0h2m3 0h1m3 0h1m1 0h2m2 0h3m2 0h7m1 0h2m1 0h2m1 0h2m6 0h1m1 0h1m1 0h3m1 0h1m1 0h3m1 0h1m1 0h1m2 0h5m1 0h3m1 0h3M425.5 276.5h5m1 0h9m1 0h3m1 0h1m2 0h2m1 0h3m11 0h3m3 0h7m1 0h4m3 0h2m3 0h3m2 0h1m2 0h2m3 0h2m2 0h2m3 0h1m7 0h1m3 0h2m2 0h3m1 0h2m1 0h8m2 0h2m1 0h2m2 0h2m1 0h5m1 0h2m3 0h1m1 0h1m2 0h1m4 0h1m2 0h1m2 0h6m3 0h2m3 0h1m1 0h12m1 0h1m3 0h3m4 0h4m1 0h1m1 0h2m1 0h6m5 0h1m1 0h4m2 0h1m2 0h5m5 0h1m2 0h1m1 0h1m5 0h7m6 0h8M425.5 277.5h1m1 0h17m1 0h3m3 0h2m1 0h1m2 0h2m1 0h2m2 0h2m2 0h1m1 0h3m1 0h1m1 0h8m2 0h1m3 0h7m1 0h1m2 0h10m6 0h2m5 0h2m2 0h8m1 0h11m2 0h1m2 0h2m1 0h2m3 0h4m2 0h5m4 0h1m3 0h3m2 0h3m4 0h2m2 0h8m2 0h1m2 0h5m1 0h4m1 0h2m3 0h2m1 0h1m1 0h2m1 0h3m1 0h2m4 0h1m2 0h4m2 0h1m2 0h2m7 0h3m1 0h2m3 0h6m1 0h3m5 0h4m1 0h4M426.5 278.5h8m1 0h6m1 0h2m1 0h5m1 0h2m3 0h2m1 0h2m1 0h1m1 0h1m4 0h2m1 0h4m7 0h5m2 0h4m1 0h4m2 0h8m5 0h1m1 0h6m1 0h4m1 0h4m1 0h5m1 0h3m1 0h2m2 0h2m1 0h2m3 0h4m2 0h1m1 0h4m3 0h2m2 0h1m1 0h1m4 0h8m2 0h1m1 0h2m1 0h3m1 0h4m4 0h2m1 0h4m1 0h1m1 0h5m2 0h1m1 0h3m1 0h1m1 0h3m2 0h1m2 0h6m3 0h1m4 0h2m1 0h2m1 0h1m1 0h3m3 0h1m1 0h3m1 0h1m1 0h1m2 0h2m3 0h4m1 0h5m1 0h1M429.5 279.5h5m3 0h1m2 0h4m1 0h3m1 0h4m3 0h5m1 0h2m3 0h2m1 0h1m1 0h3m4 0h9m2 0h10m2 0h1m2 0h6m1 0h2m1 0h2m2 0h4m1 0h2m3 0h8m3 0h2m1 0h6m1 0h2m2 0h4m2 0h1m1 0h1m1 0h5m2 0h1m4 0h6m1 0h6m1 0h2m1 0h1m1 0h2m3 0h3m1 0h1m2 0h3m6 0h3m1 0h1m3 0h1m2 0h2m2 0h2m11 0h2m1 0h1m8 0h2m1 0h1m1 0h1m1 0h1m3 0h2m1 0h1m3 0h1m2 0h1m3 0h1m2 0h3m4 0h2m1 0h3M432.5 280.5h2m4 0h2m2 0h12m2 0h3m1 0h1m4 0h4m1 0h6m3 0h4m1 0h2m2 0h1m1 0h4m1 0h1m1 0h3m2 0h1m1 0h1m1 0h1m1 0h1m1 0h1m1 0h1m3 0h2m1 0h3m2 0h7m1 0h4m1 0h2m1 0h2m1 0h1m1 0h4m2 0h1m1 0h4m3 0h4m1 0h1m5 0h1m3 0h1m1 0h1m2 0h1m2 0h5m3 0h2m2 0h3m1 0h1m2 0h1m1 0h1m6 0h1m5 0h1m8 0h3m1 0h1m1 0h2m1 0h2m1 0h1m1 0h1m3 0h1m1 0h2m4 0h2m2 0h2m1 0h1m1 0h1m2 0h1m1 0h3m1 0h1m1 0h8m1 0h1m1 0h4m1 0h3m4 0h1M425.5 281.5h6m2 0h3m2 0h3m1 0h2m3 0h3m2 0h2m7 0h3m4 0h4m2 0h2m3 0h2m2 0h5m3 0h2m2 0h1m2 0h1m1 0h2m2 0h1m2 0h1m2 0h2m4 0h4m3 0h3m3 0h1m1 0h5m1 0h1m2 0h1m3 0h2m9 0h3m5 0h2m2 0h1m1 0h1m2 0h1m4 0h1m2 0h1m1 0h4m1 0h2m5 0h3m2 0h1m2 0h2m3 0h1m1 0h1m4 0h1m1 0h4m8 0h1m1 0h2m1 0h10m1 0h2m1 0h8m1 0h5m8 0h1m4 0h1m1 0h3m1 0h1m1 0h5m1 0h4m3 0h1M425.5 282.5h2m1 0h2m1 0h1m1 0h9m3 0h1m2 0h5m5 0h1m2 0h2m5 0h4m1 0h2m1 0h1m1 0h1m1 0h1m2 0h4m5 0h2m2 0h1m2 0h2m3 0h4m1 0h1m1 0h1m5 0h3m3 0h2m4 0h1m3 0h1m3 0h1m1 0h2m2 0h1m2 0h2m2 0h2m1 0h3m2 0h1m2 0h6m2 0h1m10 0h2m2 0h3m8 0h1m6 0h5m2 0h1m3 0h1m1 0h6m6 0h12m2 0h2m1 0h3m2 0h6m2 0h7m2 0h1m1 0h2m4 0h1m1 0h3m3 0h1m3 0h8m1 0h1M426.5 283.5h1m1 0h2m1 0h2m5 0h1m1 0h1m2 0h1m2 0h1m1 0h3m1 0h2m3 0h2m1 0h1m4 0h7m1 0h3m2 0h1m7 0h3m3 0h2m2 0h11m3 0h4m6 0h1m2 0h3m3 0h5m3 0h1m1 0h2m1 0h7m1 0h6m2 0h1m2 0h4m1 0h4m1 0h1m3 0h4m2 0h2m2 0h5m1 0h1m1 0h2m3 0h4m1 0h6m1 0h1m1 0h2m2 0h5m2 0h1m1 0h6m1 0h3m1 0h3m1 0h2m1 0h2m4 0h2m3 0h4m4 0h1m3 0h2m1 0h1m4 0h4m4 0h1m6 0h3m1 0h1m1 0h1M427.5 284.5h1m3 0h2m7 0h6m2 0h2m3 0h1m3 0h1m2 0h2m1 0h1m1 0h4m1 0h1m2 0h4m1 0h1m1 0h3m3 0h2m4 0h1m1 0h2m1 0h1m2 0h9m1 0h2m4 0h1m2 0h1m7 0h2m1 0h4m3 0h4m5 0h5m2 0h2m1 0h2m3 0h1m1 0h6m2 0h2m1 0h2m1 0h2m1 0h2m3 0h9m4 0h2m4 0h1m1 0h2m2 0h4m2 0h3m2 0h1m2 0h6m1 0h6m2 0h3m2 0h6m4 0h9m3 0h1m7 0h2m1 0h5m4 0h1m1 0h3m4 0h1M426.5 285.5h1m2 0h6m2 0h7m1 0h1m1 0h2m2 0h1m6 0h4m2 0h2m1 0h1m1 0h1m6 0h2m14 0h1m8 0h2m8 0h1m3 0h2m1 0h1m1 0h1m1 0h1m1 0h2m2 0h1m2 0h2m1 0h2m1 0h1m4 0h1m1 0h2m1 0h1m1 0h4m2 0h3m1 0h1m3 0h2m1 0h4m2 0h1m2 0h4m1 0h3m2 0h4m2 0h6m1 0h1m3 0h3m2 0h2m2 0h1m1 0h1m3 0h1m4 0h1m4 0h1m2 0h4m1 0h2m1 0h2m1 0h1m2 0h3m5 0h1m1 0h2m1 0h1m2 0h1m1 0h1m1 0h1m4 0h1m2 0h2m2 0h1m1 0h1m1 0h4m1 0h2m1 0h1m3 0h3m1 0h1M425.5 286.5h3m1 0h6m1 0h5m1 0h2m1 0h3m1 0h1m1 0h1m4 0h2m5 0h2m7 0h1m1 0h1m1 0h1m2 0h1m2 0h1m4 0h2m1 0h1m1 0h1m7 0h1m2 0h3m2 0h1m1 0h1m2 0h1m3 0h2m1 0h1m1 0h2m1 0h3m2 0h3m1 0h1m2 0h1m3 0h1m4 0h2m4 0h3m4 0h7m4 0h1m5 0h3m3 0h2m2 0h3m2 0h1m1 0h3m4 0h6m3 0h2m5 0h4m2 0h1m4 0h1m3 0h1m2 0h1m1 0h1m4 0h3m2 0h1m1 0h1m1 0h1m1 0h1m1 0h2m1 0h1m3 0h5m2 0h2m1 0h2m5 0h1m2 0h3m1 0h1m5 0h3M426.5 287.5h1m7 0h1m4 0h1m2 0h1m1 0h3m3 0h1m2 0h1m1 0h3m2 0h3m1 0h1m5 0h5m6 0h2m1 0h1m8 0h1m5 0h3m2 0h3m1 0h1m8 0h1m1 0h1m1 0h1m1 0h3m1 0h1m2 0h3m2 0h1m2 0h1m1 0h3m3 0h2m1 0h1m2 0h2m1 0h2m3 0h1m1 0h1m7 0h1m2 0h1m2 0h2m1 0h3m7 0h1m4 0h4m5 0h2m2 0h4m7 0h4m3 0h1m2 0h2m1 0h4m1 0h1m4 0h4m2 0h2m2 0h2m8 0h2m1 0h2m1 0h3m6 0h4m1 0h1m1 0h1m2 0h1m4 0h1m1 0h2M437.5 288.5h1m2 0h3m1 0h2m8 0h2m4 0h4m2 0h2m1 0h2m1 0h2m4 0h2m2 0h6m4 0h1m6 0h15m3 0h3m4 0h5m2 0h6m1 0h5m1 0h4m1 0h1m2 0h3m1 0h2m2 0h1m3 0h1m2 0h1m1 0h1m1 0h1m4 0h1m6 0h1m3 0h1m3 0h2m2 0h4m2 0h2m1 0h2m2 0h1m1 0h2m2 0h4m2 0h4m10 0h1m1 0h2m2 0h5m3 0h2m1 0h2m4 0h1m3 0h1m1 0h4m1 0h4m1 0h2m2 0h3m2 0h4m3 0h1m2 0h3M429.5 289.5h4m2 0h3m2 0h3m1 0h3m3 0h1m5 0h2m1 0h9m3 0h1m1 0h2m5 0h1m1 0h1m2 0h1m1 0h3m2 0h1m4 0h1m4 0h3m2 0h10m4 0h2m3 0h4m1 0h3m2 0h2m1 0h7m2 0h2m1 0h5m1 0h1m2 0h2m1 0h3m4 0h2m9 0h3m3 0h1m3 0h7m4 0h7m2 0h1m1 0h3m1 0h1m2 0h1m2 0h1m5 0h1m1 0h1m5 0h1m2 0h1m1 0h4m2 0h1m4 0h1m4 0h1m2 0h6m1 0h6m1 0h3m2 0h3m3 0h2m1 0h1m3 0h2M430.5 290.5h4m1 0h2m2 0h1m1 0h8m1 0h4m2 0h1m1 0h1m1 0h2m1 0h3m3 0h1m1 0h1m1 0h6m2 0h1m3 0h2m1 0h3m1 0h1m4 0h1m1 0h6m1 0h3m2 0h3m6 0h4m2 0h3m2 0h1m1 0h2m2 0h1m1 0h2m1 0h1m2 0h1m2 0h3m2 0h1m3 0h2m2 0h4m3 0h4m5 0h2m1 0h1m2 0h1m1 0h2m4 0h1m1 0h4m5 0h2m1 0h1m1 0h2m2 0h5m2 0h5m1 0h1m5 0h3m4 0h5m5 0h2m3 0h1m3 0h1m4 0h6m1 0h4m3 0h1m1 0h5m1 0h2m1 0h4m1 0h4M427.5 291.5h2m1 0h1m1 0h1m1 0h3m4 0h3m1 0h8m4 0h2m6 0h1m4 0h2m3 0h1m1 0h2m1 0h3m7 0h5m2 0h1m1 0h7m1 0h1m2 0h2m1 0h1m2 0h4m2 0h3m1 0h3m2 0h1m1 0h2m1 0h1m2 0h1m2 0h9m6 0h2m2 0h2m2 0h1m1 0h3m1 0h1m1 0h6m1 0h2m3 0h5m2 0h3m3 0h2m1 0h3m5 0h1m1 0h2m1 0h3m2 0h4m3 0h1m3 0h4m1 0h1m1 0h3m6 0h6m1 0h4m3 0h1m1 0h2m4 0h1m2 0h1m7 0h6m2 0h3m1 0h4m1 0h1" stroke="#f01010" stroke-width="1" fill="none"/>
<rect x="425.5" y="292" width="272" height="99" fill="#000"/>
<path d="M433.5 292.5h1m2 0h1m28 0h1m4 0h1m4 0h1m9 0h1m3 0h1m4 0h1m11 0h1m1 0h1m1 0h1m6 0h1m11 0h1m20 0h1m4 0h1m6 0h1m1 0h1m21 0h1m1 0h1m4 0h1m6 0h1m5 0h1m13 0h1m3 0h1m5 0h2m2 0h3m5 0h1m6 0h1m4 0h2m3 0h1m15 0h2m1 0h1m2 0h1m8 0h1m3 0h1M428.5 293.5h1m1 0h4m2 0h1m1 0h1m11 0h1m1 0h1m18 0h1m3 0h1m23 0h1m7 0h1m1 0h1m4 0h1m2 0h1m7 0h1m3 0h1m2 0h1m3 0h1m2 0h1m5 0h1m2 0h1m13 0h1m2 0h1m25 0h1m2 0h1m6 0h1m2 0h1m4 0h1m3 0h1m1 0h2m5 0h1m2 0h1m4 0h2m1 0h1m2 0h1m6 0h2m9 0h2m3 0h2m10 0h1m7 0h1m1 0h1m3 0h1m2 0h1m7 0h1M427.5 294.5h1m5 0h1m6 0h1m1 0h1m2 0h1m4 0h1m1 0h1m15 0h2m4 0h1m7 0h1m4 0h1m1 0h2m4 0h1m19 0h1m1 0h1m14 0h1m2 0h1m9 0h1m1 0h2m10 0h1m1 0h2m2 0h1m4 0h1m22 0h2m6 0h1m2 0h1m2 0h1m8 0h2m8 0h1m5 0h1m3 0h1m4 0h3m2 0h1m2 0h1m1 0h1m3 0h1m3 0h1m1 0h1m2 0h1m6 0h1m6 0h1m3 0h1m2 0h2m5 0h2M441.5 295.5h1m4 0h1m9 0h2m5 0h1m2 0h1m2 0h1m1 0h1m2 0h1m10 0h1m3 0h1m1 0h1m2 0h1m5 0h1m7 0h1m7 0h1m1 0h1m17 0h3m18 0h1m9 0h1m14 0h1m1 0h2m2 0h1m4 0h2m4 0h1m7 0h1m5 0h1m12 0h1m4 0h2m10 0h2m5 0h1m5 0h1m1 0h1m1 0h1m3 0h1m2 0h1m1 0h2m4 0h1m7 0h1m7 0h3M433.5 296.5h2m1 0h1m2 0h1m17 0h1m11 0h2m2 0h1m1 0h1m4 0h1m1 0h1m7 0h1m4 0h1m1 0h1m2 0h1m7 0h1m1 0h1m4 0h1m1 0h1m10 0h1m1 0h1m8 0h3m1 0h1m11 0h1m2 0h2m7 0h1m1 0h1m12 0h2m13 0h1m3 0h1m1 0h2m5 0h2m6 0h1m6 0h1m4 0h2m2 0h1m5 0h1m14 0h1m6 0h1m10 0h1m3 0h1m1 0h1m8 0h1m3 0h1M429.5 297.5h1m12 0h2m7 0h1m12 0h1m1 0h2m1 0h2m18 0h1m6 0h1m6 0h2m1 0h1m31 0h1m1 0h1m3 0h1m1 0h1m8 0h1m1 0h1m3 0h1m4 0h1m1 0h1m8 0h1m2 0h1m11 0h1m4 0h1m13 0h1m4 0h1m1 0h1m1 0h1m10 0h1m1 0h1m7 0h2m1 0h1m3 0h1m6 0h1m4 0h1m9 0h1m6 0h1m1 0h1m11 0h2m1 0h1M430.5 298.5h1m3 0h1m5 0h1m5 0h1m7 0h1m9 0h2m5 0h1m6 0h1m1 0h1m3 0h1m8 0h1m1 0h1m1 0h1m1 0h1m2 0h1m4 0h2m2 0h1m1 0h1m7 0h2m2 0h1m1 0h1m3 0h1m12 0h1m13 0h1m3 0h1m3 0h1m5 0h1m7 0h2m6 0h1m18 0h2m5 0h1m1 0h1m3 0h1m1 0h2m6 0h1m2 0h1m2 0h2m2 0h1m12 0h1m3 0h1m17 0h1m2 0h1m10 0h1M426.5 299.5h1m5 0h1m3 0h1m13 0h1m6 0h1m11 0h1m1 0h1m2 0h1m4 0h1m5 0h1m4 0h1m5 0h1m1 0h1m3 0h1m1 0h2m3 0h1m22 0h1m4 0h2m2 0h1m6 0h1m8 0h1m1 0h3m1 0h1m3 0h1m8 0h1m5 0h1m4 0h4m1 0h1m11 0h1m8 0h1m10 0h3m7 0h1m13 0h1m2 0h1m16 0h1m4 0h1m2 0h1m16 0h1M425.5 300.5h1m1 0h1m4 0h1m5 0h1m9 0h1m5 0h1m2 0h1m2 0h1m5 0h1m6 0h1m2 0h1m6 0h1m1 0h2m2 0h1m12 0h2m3 0h1m6 0h1m5 0h1m7 0h1m9 0h1m7 0h1m1 0h1m8 0h1m1 0h1m4 0h1m3 0h2m2 0h1m2 0h1m2 0h1m4 0h3m2 0h1m2 0h1m3 0h3m31 0h2m2 0h1m4 0h1m4 0h1m3 0h1m18 0h1m2 0h2m25 0h1M429.5 301.5h2m2 0h2m1 0h1m4 0h1m6 0h2m7 0h1m13 0h1m1 0h1m6 0h2m5 0h1m5 0h1m3 0h1m5 0h1m1 0h3m18 0h1m6 0h2m6 0h1m7 0h1m10 0h5m1 0h1m2 0h1m10 0h1m2 0h1m2 0h1m3 0h2m1 0h1m23 0h1m5 0h1m2 0h1m10 0h1m5 0h1m1 0h2m6 0h2m8 0h1m5 0h1m3 0h1m6 0h1m4 0h2m5 0h1m1 0h1M445.5 302.5h1m1 0h1m2 0h3m4 0h1m13 0h2m11 0h1m3 0h1m8 0h1m3 0h1m2 0h1m2 0h4m6 0h1m7 0h1m11 0h1m5 0h2m5 0h4m5 0h1m1 0h1m11 0h1m7 0h1m1 0h4m14 0h1m2 0h1m20 0h1m11 0h1m1 0h1m4 0h1m1 0h1m5 0h1m3 0h1m4 0h1m12 0h2m8 0h1m8 0h2M429.5 303.5h1m1 0h1m2 0h1m2 0h1m15 0h1m6 0h1m4 0h2m4 0h2m13 0h1m19 0h1m3 0h1m2 0h2m4 0h1m5 0h1m11 0h1m10 0h1m5 0h3m5 0h3m2 0h1m1 0h1m2 0h1m5 0h2m1 0h1m2 0h1m20 0h1m7 0h1m5 0h2m5 0h1m1 0h1m1 0h1m5 0h1m3 0h1m4 0h1m4 0h1m3 0h1m14 0h1m5 0h1m1 0h1m1 0h1m6 0h1M431.5 304.5h1m2 0h2m11 0h1m2 0h1m2 0h1m15 0h2m2 0h1m12 0h1m4 0h1m1 0h1m8 0h1m3 0h1m11 0h2m7 0h1m4 0h1m4 0h1m3 0h1m11 0h1m2 0h2m1 0h1m14 0h1m3 0h1m3 0h1m1 0h1m4 0h1m3 0h2m5 0h1m3 0h1m4 0h1m4 0h1m9 0h1m7 0h1m12 0h1m2 0h1m15 0h2m5 0h1m3 0h1m1 0h1m6 0h1m6 0h1m4 0h1M425.5 305.5h1m6 0h2m1 0h1m4 0h1m7 0h2m2 0h1m2 0h1m2 0h1m1 0h1m2 0h1m4 0h2m1 0h1m2 0h1m9 0h1m4 0h1m10 0h1m11 0h1m3 0h2m7 0h1m4 0h1m9 0h1m2 0h1m2 0h1m3 0h1m19 0h1m1 0h2m1 0h1m7 0h1m6 0h1m4 0h2m7 0h1m7 0h1m2 0h1m6 0h2m1 0h2m8 0h1m1 0h1m3 0h1m5 0h2m2 0h2m1 0h1m14 0h2m3 0h1m1 0h1m6 0h1M436.5 306.5h1m2 0h1m1 0h1m4 0h1m3 0h1m2 0h1m1 0h1m11 0h1m3 0h3m3 0h1m6 0h4m3 0h1m1 0h1m13 0h2m6 0h1m3 0h1m8 0h1m1 0h1m2 0h2m3 0h1m5 0h1m11 0h1m2 0h1m5 0h1m8 0h1m1 0h2m6 0h1m13 0h1m1 0h1m3 0h1m7 0h1m25 0h1m10 0h1m4 0h1m5 0h1m1 0h1m3 0h1m2 0h2m1 0h1m7 0h1m5 0h1m4 0h1m1 0h1m1 0h1M434.5 307.5h2m2 0h1m12 0h2m2 0h1m5 0h1m7 0h1m4 0h1m1 0h1m6 0h1m2 0h1m2 0h1m3 0h1m11 0h1m9 0h1m7 0h1m3 0h1m3 0h1m12 0h1m13 0h1m1 0h1m12 0h1m6 0h2m3 0h1m3 0h1m5 0h1m4 0h1m4 0h1m2 0h1m2 0h2m7 0h1m1 0h1m8 0h1m6 0h1m3 0h1m2 0h1m1 0h1m2 0h1m1 0h1m6 0h1m1 0h2m2 0h1m6 0h1m9 0h1m2 0h1M437.5 308.5h1m4 0h1m4 0h1m9 0h1m2 0h1m4 0h1m1 0h3m10 0h1m6 0h1m12 0h2m4 0h1m7 0h1m1 0h1m1 0h1m8 0h1m11 0h2m5 0h1m4 0h1m1 0h1m11 0h1m4 0h1m9 0h1m3 0h1m17 0h1m4 0h1m2 0h2m12 0h1m2 0h1m1 0h1m3 0h1m3 0h1m1 0h1m12 0h1m8 0h1m9 0h1m10 0h1m1 0h1m1 0h1m3 0h1M432.5 309.5h1m2 0h1m14 0h3m13 0h2m1 0h1m1 0h1m11 0h2m2 0h1m3 0h1m4 0h1m4 0h2m1 0h1m2 0h1m16 0h1m5 0h2m10 0h1m4 0h2m9 0h1m2 0h1m7 0h1m5 0h1m8 0h1m1 0h1m1 0h1m7 0h2m7 0h3m2 0h1m13 0h1m6 0h1m21 0h1m18 0h1m4 0h1m1 0h1m13 0h1M425.5 310.5h1m4 0h1m7 0h1m31 0h1m2 0h1m12 0h3m6 0h1m7 0h2m3 0h1m10 0h2m1 0h1m6 0h1m1 0h1m16 0h1m13 0h1m3 0h2m3 0h1m2 0h1m1 0h1m1 0h1m7 0h1m8 0h1m25 0h1m1 0h1m2 0h1m22 0h1m12 0h3m6 0h2m2 0h1m11 0h1m1 0h1m3 0h2M429.5 311.5h1m3 0h1m3 0h1m1 0h1m13 0h1m1 0h2m10 0h1m1 0h1m20 0h1m6 0h1m2 0h1m7 0h1m3 0h1m1 0h1m9 0h1m4 0h1m1 0h1m8 0h1m1 0h1m11 0h1m5 0h2m8 0h1m4 0h1m1 0h1m19 0h1m1 0h1m7 0h1m1 0h1m2 0h2m1 0h2m3 0h1m2 0h1m21 0h1m2 0h1m10 0h1m13 0h1m11 0h1m3 0h2m3 0h1M435.5 312.5h1m6 0h1m3 0h3m2 0h1m14 0h1m3 0h1m1 0h1m10 0h1m3 0h1m15 0h1m2 0h1m5 0h1m5 0h1m10 0h2m4 0h1m1 0h4m6 0h1m6 0h1m13 0h1m2 0h1m3 0h2m4 0h2m5 0h1m3 0h1m20 0h1m8 0h1m1 0h1m31 0h3m2 0h3m6 0h1m3 0h1m3 0h1m4 0h1m2 0h1m1 0h1M434.5 313.5h1m2 0h1m20 0h2m5 0h1m3 0h1m1 0h1m5 0h1m1 0h1m1 0h1m6 0h1m7 0h2m6 0h1m5 0h1m15 0h1m5 0h1m11 0h1m2 0h1m9 0h1m1 0h2m1 0h1m4 0h1m8 0h1m9 0h1m8 0h1m3 0h2m5 0h1m9 0h1m2 0h1m1 0h1m2 0h1m3 0h1m9 0h1m3 0h2m3 0h1m4 0h2m1 0h1m4 0h1m1 0h1m1 0h1m7 0h2m21 0h1M428.5 314.5h2m9 0h2m3 0h1m2 0h1m5 0h2m5 0h3m7 0h1m1 0h1m2 0h1m7 0h2m14 0h1m3 0h1m3 0h1m10 0h1m2 0h1m1 0h1m6 0h2m3 0h1m2 0h2m3 0h1m5 0h1m3 0h2m2 0h1m4 0h1m12 0h1m6 0h2m11 0h1m1 0h1m10 0h1m16 0h1m6 0h2m5 0h1m4 0h2m15 0h1m4 0h2m4 0h1m6 0h1m3 0h1m5 0h1m4 0h1m1 0h1M433.5 315.5h3m4 0h1m9 0h1m2 0h2m4 0h1m18 0h1m7 0h1m8 0h1m4 0h1m7 0h1m20 0h2m16 0h1m1 0h2m6 0h1m4 0h1m5 0h1m9 0h1m3 0h1m6 0h1m10 0h1m6 0h2m8 0h1m4 0h2m2 0h1m2 0h1m4 0h2m4 0h1m6 0h2m1 0h1m5 0h1m11 0h1m3 0h1m8 0h1m3 0h1m5 0h1m3 0h1M430.5 316.5h1m1 0h2m17 0h1m2 0h1m2 0h1m2 0h1m10 0h1m1 0h1m20 0h1m10 0h1m9 0h1m8 0h1m12 0h2m2 0h1m6 0h1m6 0h2m1 0h1m9 0h1m6 0h1m3 0h2m16 0h1m2 0h1m1 0h1m8 0h1m11 0h1m5 0h1m5 0h1m10 0h3m13 0h1m1 0h3m4 0h1m1 0h1m1 0h1m2 0h1m6 0h1M428.5 317.5h1m7 0h1m13 0h1m1 0h1m1 0h1m2 0h1m7 0h2m1 0h1m3 0h1m14 0h1m10 0h4m1 0h2m5 0h1m1 0h1m13 0h1m2 0h1m16 0h1m10 0h1m16 0h1m5 0h1m1 0h1m5 0h1m8 0h1m4 0h1m8 0h1m2 0h2m1 0h2m3 0h1m3 0h1m1 0h1m7 0h2m19 0h1m3 0h1m7 0h1m9 0h2m11 0h1m1 0h1M431.5 318.5h1m13 0h1m1 0h1m13 0h1m1 0h1m1 0h2m1 0h2m1 0h1m5 0h1m5 0h1m5 0h1m3 0h1m1 0h1m1 0h1m15 0h1m4 0h1m15 0h3m3 0h1m5 0h1m1 0h1m13 0h1m3 0h1m2 0h1m2 0h1m11 0h1m7 0h1m2 0h1m1 0h1m3 0h1m4 0h1m1 0h1m15 0h1m12 0h1m1 0h1m2 0h3m7 0h1m4 0h1m6 0h2m1 0h1m1 0h2m4 0h1m5 0h2m12 0h1M431.5 319.5h3m4 0h1m11 0h1m5 0h1m9 0h1m3 0h1m2 0h1m7 0h1m1 0h2m4 0h1m3 0h1m1 0h1m7 0h1m4 0h1m15 0h1m2 0h3m2 0h1m1 0h1m1 0h2m9 0h1m3 0h1m15 0h1m7 0h2m5 0h1m17 0h2m15 0h1m3 0h1m2 0h1m1 0h1m12 0h1m5 0h1m6 0h1m6 0h1m4 0h2m1 0h1m1 0h1m4 0h1m6 0h1m3 0h1m1 0h1M431.5 320.5h1m2 0h1m12 0h1m2 0h1m2 0h2m3 0h1m14 0h2m16 0h1m2 0h2m10 0h1m16 0h1m4 0h1m2 0h1m2 0h1m6 0h1m4 0h1m8 0h1m6 0h1m3 0h3m6 0h1m7 0h1m2 0h1m7 0h1m1 0h1m3 0h1m15 0h1m3 0h1m15 0h1m8 0h1m8 0h1m5 0h2m2 0h1m5 0h1m1 0h1m2 0h1m2 0h1m1 0h1m2 0h1m2 0h1m2 0h1M425.5 321.5h1m2 0h1m5 0h1m9 0h1m5 0h2m3 0h1m3 0h1m8 0h1m3 0h2m5 0h1m5 0h1m3 0h1m9 0h1m1 0h1m4 0h1m1 0h1m1 0h3m2 0h1m9 0h1m17 0h1m13 0h1m7 0h1m10 0h1m1 0h1m1 0h1m1 0h2m2 0h1m10 0h2m2 0h2m1 0h1m3 0h1m5 0h1m1 0h1m3 0h1m2 0h2m1 0h2m4 0h1m1 0h1m1 0h2m1 0h1m3 0h1m5 0h1m6 0h1m14 0h1m2 0h1m10 0h1m2 0h1m3 0h1m1 0h1M427.5 322.5h1m5 0h2m1 0h1m13 0h1m15 0h1m1 0h1m2 0h1m9 0h1m3 0h1m9 0h1m2 0h1m2 0h1m1 0h1m7 0h1m1 0h1m2 0h1m2 0h1m6 0h1m7 0h1m1 0h2m14 0h1m1 0h1m1 0h1m8 0h1m7 0h2m13 0h1m2 0h1m3 0h1m21 0h1m2 0h1m9 0h1m8 0h1m1 0h2m5 0h1m1 0h1m7 0h1m2 0h1m1 0h1m2 0h1m14 0h1m1 0h1m2 0h1m4 0h1m3 0h1M436.5 323.5h1m1 0h2m1 0h1m7 0h2m2 0h1m13 0h1m6 0h1m8 0h1m5 0h3m3 0h1m7 0h2m6 0h1m2 0h1m4 0h1m11 0h1m1 0h1m4 0h1m10 0h1m9 0h1m5 0h1m6 0h1m2 0h1m3 0h1m2 0h1m3 0h1m2 0h1m2 0h1m3 0h1m23 0h1m5 0h1m1 0h1m10 0h2m8 0h1m6 0h1m2 0h1m1 0h1m4 0h2m1 0h1m21 0h1m4 0h1M431.5 324.5h1m5 0h2m1 0h1m8 0h1m2 0h1m2 0h1m12 0h4m8 0h3m8 0h1m1 0h1m2 0h1m8 0h1m1 0h1m13 0h2m4 0h1m2 0h1m4 0h2m9 0h1m1 0h1m2 0h1m8 0h1m10 0h1m8 0h1m6 0h1m3 0h1m1 0h2m3 0h1m13 0h1m7 0h1m5 0h1m7 0h1m4 0h2m1 0h1m3 0h2m13 0h1m8 0h1m8 0h1m5 0h1M431.5 325.5h4m3 0h2m1 0h1m1 0h1m2 0h1m8 0h1m11 0h1m3 0h1m1 0h1m3 0h1m8 0h2m5 0h2m3 0h1m3 0h1m11 0h2m9 0h1m2 0h1m3 0h1m3 0h1m6 0h1m2 0h1m1 0h1m6 0h1m4 0h1m5 0h1m6 0h1m4 0h2m8 0h1m6 0h1m1 0h1m2 0h1m5 0h1m11 0h1m9 0h1m1 0h1m10 0h1m3 0h1m8 0h1m12 0h2m5 0h1m2 0h2m1 0h1m5 0h1M435.5 326.5h1m1 0h2m9 0h1m9 0h1m9 0h1m1 0h1m1 0h2m2 0h2m6 0h1m3 0h1m2 0h1m13 0h1m10 0h1m1 0h1m17 0h1m8 0h1m10 0h1m1 0h2m1 0h1m2 0h3m2 0h1m3 0h1m4 0h1m3 0h2m8 0h2m1 0h1m1 0h1m11 0h4m4 0h1m3 0h1m9 0h1m4 0h1m4 0h1m4 0h1m1 0h2m2 0h1m5 0h1m12 0h1m7 0h1m3 0h1m6 0h2M433.5 327.5h1m3 0h2m9 0h1m16 0h2m2 0h1m16 0h4m4 0h1m10 0h1m17 0h1m1 0h2m1 0h1m1 0h3m1 0h1m4 0h1m4 0h1m2 0h1m1 0h1m12 0h2m4 0h1m11 0h1m5 0h1m1 0h1m4 0h1m14 0h1m15 0h1m3 0h1m8 0h1m4 0h1m2 0h1m5 0h1m5 0h1m5 0h1m4 0h1m1 0h1m6 0h1m3 0h1m12 0h1M427.5 328.5h1m8 0h2m1 0h1m8 0h1m1 0h1m4 0h1m3 0h1m1 0h2m1 0h1m1 0h2m3 0h1m21 0h2m7 0h1m9 0h1m21 0h1m6 0h1m8 0h1m1 0h1m14 0h1m3 0h1m5 0h1m7 0h1m4 0h1m6 0h1m11 0h1m1 0h1m5 0h1m2 0h1m4 0h1m12 0h1m7 0h1m6 0h1m2 0h1m1 0h1m1 0h1m2 0h1m5 0h1m2 0h1m20 0h1M426.5 329.5h1m2 0h1m1 0h1m16 0h2m1 0h2m3 0h1m11 0h1m1 0h1m1 0h1m3 0h1m4 0h3m7 0h1m1 0h1m5 0h2m2 0h1m2 0h1m12 0h1m3 0h1m3 0h1m2 0h1m3 0h1m3 0h1m5 0h1m16 0h1m2 0h1m2 0h1m1 0h1m3 0h2m4 0h1m4 0h1m7 0h1m7 0h1m7 0h1m4 0h1m5 0h1m1 0h1m5 0h1m11 0h1m1 0h3m2 0h1m8 0h1m1 0h1m3 0h1m2 0h1m3 0h1m12 0h1m5 0h1m8 0h1M432.5 330.5h2m1 0h1m6 0h1m7 0h1m3 0h1m11 0h3m1 0h1m16 0h2m5 0h1m16 0h1m4 0h1m2 0h1m6 0h1m11 0h1m4 0h1m2 0h1m1 0h1m4 0h1m1 0h1m3 0h1m5 0h1m5 0h1m8 0h1m1 0h1m7 0h1m5 0h2m4 0h1m19 0h1m17 0h1m9 0h1m14 0h1m11 0h1m1 0h2m1 0h1m8 0h1M447.5 331.5h1m6 0h1m8 0h1m2 0h1m3 0h2m1 0h1m5 0h1m2 0h2m6 0h1m2 0h1m2 0h1m8 0h1m8 0h1m4 0h1m1 0h1m4 0h1m2 0h1m1 0h1m4 0h1m24 0h1m1 0h1m2 0h1m2 0h1m9 0h2m1 0h1m4 0h1m7 0h1m15 0h1m6 0h1m3 0h1m13 0h1m3 0h1m4 0h1m8 0h2m3 0h1m1 0h1m10 0h1m1 0h1m3 0h1m9 0h1m1 0h1m2 0h1m1 0h1M437.5 332.5h1m1 0h2m3 0h1m3 0h1m2 0h2m20 0h1m6 0h1m7 0h2m11 0h1m10 0h1m1 0h2m1 0h1m2 0h1m7 0h1m1 0h1m2 0h1m1 0h1m1 0h1m3 0h2m1 0h1m3 0h1m22 0h1m17 0h1m1 0h1m1 0h2m2 0h1m12 0h1m6 0h1m4 0h1m1 0h1m1 0h1m1 0h1m1 0h1m6 0h1m4 0h1m21 0h1m4 0h1m4 0h1m16 0h1M429.5 333.5h1m3 0h3m1 0h1m6 0h1m11 0h1m11 0h1m15 0h1m1 0h1m1 0h1m7 0h1m3 0h1m3 0h1m9 0h1m2 0h1m3 0h1m4 0h1m7 0h1m9 0h1m1 0h1m1 0h1m18 0h1m2 0h1m3 0h1m10 0h1m14 0h1m5 0h2m5 0h1m3 0h1m1 0h1m12 0h3m4 0h1m2 0h1m4 0h1m4 0h1m3 0h1m1 0h1m3 0h1m2 0h2m16 0h2m4 0h1m2 0h2M429.5 334.5h2m3 0h1m2 0h3m7 0h1m4 0h1m1 0h1m2 0h1m5 0h1m2 0h1m4 0h2m9 0h1m3 0h1m9 0h1m2 0h2m6 0h1m13 0h1m3 0h2m3 0h1m16 0h3m2 0h1m9 0h1m8 0h1m1 0h1m11 0h2m3 0h1m4 0h1m2 0h1m15 0h1m1 0h1m5 0h1m5 0h1m11 0h1m3 0h1m1 0h2m12 0h1m3 0h1m2 0h2m7 0h1m3 0h1m6 0h2m7 0h1M445.5 335.5h2m3 0h1m2 0h2m2 0h1m15 0h1m2 0h1m5 0h1m2 0h1m2 0h1m1 0h1m6 0h3m1 0h3m10 0h1m3 0h1m15 0h1m19 0h1m9 0h1m3 0h1m12 0h1m4 0h1m1 0h1m1 0h1m1 0h1m5 0h1m6 0h1m27 0h1m4 0h1m3 0h1m2 0h2m7 0h1m2 0h1m3 0h1m5 0h1m4 0h1m2 0h1m5 0h1m4 0h1m4 0h1m2 0h1M433.5 336.5h1m12 0h1m1 0h1m1 0h1m2 0h1m1 0h1m12 0h1m1 0h1m2 0h2m9 0h1m3 0h1m24 0h1m17 0h1m2 0h1m6 0h1m13 0h1m3 0h2m2 0h2m3 0h1m1 0h1m2 0h2m3 0h1m2 0h1m9 0h1m5 0h2m9 0h1m2 0h1m9 0h1m9 0h1m6 0h1m4 0h1m1 0h1m13 0h3m1 0h2m1 0h1m13 0h1m1 0h1m6 0h2M432.5 337.5h1m3 0h2m13 0h2m2 0h1m9 0h1m2 0h1m6 0h1m7 0h1m1 0h1m8 0h1m2 0h4m4 0h1m1 0h1m8 0h1m1 0h1m8 0h1m3 0h3m6 0h1m5 0h2m19 0h1m5 0h1m10 0h1m6 0h1m4 0h1m11 0h1m2 0h1m4 0h2m2 0h1m5 0h1m5 0h1m3 0h4m11 0h2m6 0h1m2 0h1m1 0h1m2 0h1m19 0h1m5 0h1m1 0h1M428.5 338.5h1m6 0h1m12 0h2m2 0h2m1 0h1m12 0h1m5 0h1m4 0h1m3 0h1m2 0h1m11 0h1m4 0h1m3 0h1m4 0h1m3 0h1m3 0h1m6 0h1m8 0h1m6 0h1m5 0h1m14 0h2m2 0h1m16 0h1m10 0h1m5 0h1m6 0h1m6 0h1m12 0h2m5 0h1m3 0h1m11 0h3m2 0h2m1 0h1m1 0h1m4 0h2m14 0h3M427.5 339.5h1m5 0h1m1 0h1m3 0h1m2 0h1m14 0h1m2 0h1m7 0h1m1 0h1m30 0h4m8 0h1m11 0h1m7 0h1m15 0h4m6 0h1m2 0h1m4 0h3m6 0h2m1 0h1m2 0h1m5 0h2m4 0h2m3 0h1m6 0h1m6 0h1m1 0h1m1 0h1m8 0h1m1 0h1m4 0h1m2 0h1m5 0h1m7 0h1m1 0h1m6 0h1m6 0h1m1 0h1m6 0h1m1 0h1m1 0h1m5 0h1m3 0h1m3 0h1M425.5 340.5h1m6 0h1m7 0h1m4 0h2m6 0h1m9 0h1m3 0h1m2 0h1m7 0h1m7 0h2m4 0h2m2 0h1m2 0h1m10 0h1m5 0h1m1 0h1m3 0h1m1 0h1m2 0h1m2 0h1m1 0h3m9 0h2m2 0h1m1 0h1m11 0h1m2 0h1m9 0h1m6 0h3m7 0h1m2 0h1m2 0h1m7 0h1m1 0h2m1 0h1m3 0h1m7 0h1m8 0h1m2 0h1m8 0h1m9 0h1m9 0h1m5 0h1m3 0h2m8 0h1m7 0h1M429.5 341.5h1m1 0h1m1 0h2m1 0h2m2 0h1m4 0h1m1 0h1m1 0h1m1 0h2m1 0h1m1 0h1m2 0h1m4 0h1m4 0h1m4 0h1m6 0h1m1 0h1m8 0h1m6 0h1m9 0h1m8 0h1m3 0h1m1 0h1m10 0h1m4 0h1m4 0h1m4 0h1m9 0h2m1 0h1m7 0h3m1 0h1m5 0h1m4 0h1m5 0h2m3 0h2m1 0h1m4 0h1m6 0h1m17 0h1m5 0h1m2 0h1m6 0h1m3 0h1m1 0h1m1 0h1m3 0h1m3 0h1m3 0h2m5 0h1M431.5 342.5h2m1 0h1m10 0h1m5 0h2m6 0h1m13 0h1m2 0h1m10 0h1m5 0h1m1 0h1m2 0h1m3 0h2m3 0h2m12 0h1m7 0h1m2 0h1m6 0h1m1 0h1m1 0h4m9 0h1m4 0h2m2 0h1m1 0h1m1 0h1m4 0h1m2 0h2m4 0h1m2 0h1m1 0h1m9 0h1m9 0h1m3 0h1m4 0h2m2 0h1m10 0h1m2 0h1m15 0h1m2 0h2m14 0h1m1 0h1m2 0h1m3 0h1m6 0h1m2 0h1M425.5 343.5h1m2 0h1m1 0h1m1 0h1m5 0h1m32 0h2m13 0h1m4 0h1m1 0h1m1 0h2m3 0h1m2 0h2m4 0h1m8 0h2m11 0h1m1 0h1m6 0h2m9 0h1m4 0h1m7 0h3m16 0h1m11 0h1m3 0h1m16 0h2m4 0h2m9 0h1m17 0h1m6 0h1m14 0h2m3 0h2m3 0h1m9 0h1M431.5 344.5h2m13 0h1m3 0h1m1 0h1m3 0h1m1 0h1m11 0h1m2 0h1m11 0h1m2 0h1m5 0h1m2 0h1m3 0h1m2 0h2m15 0h1m18 0h1m12 0h1m4 0h1m5 0h1m2 0h1m5 0h1m4 0h1m3 0h1m1 0h1m4 0h1m7 0h1m9 0h1m4 0h2m7 0h1m9 0h1m1 0h1m26 0h1m1 0h3m11 0h1m2 0h1m1 0h1m3 0h2m6 0h1M431.5 345.5h1m3 0h3m2 0h1m8 0h1m3 0h1m1 0h1m9 0h1m2 0h1m2 0h1m4 0h1m2 0h1m5 0h2m7 0h1m5 0h1m2 0h1m6 0h1m1 0h3m4 0h1m1 0h1m11 0h1m3 0h1m1 0h1m2 0h3m3 0h1m3 0h1m4 0h1m2 0h1m1 0h1m12 0h1m5 0h1m3 0h1m4 0h2m8 0h1m4 0h1m1 0h2m2 0h1m5 0h1m8 0h1m3 0h2m1 0h1m2 0h1m1 0h2m2 0h1m9 0h1m3 0h2m11 0h1m2 0h1m4 0h1m3 0h1m3 0h1m2 0h1m6 0h1M429.5 346.5h1m5 0h1m3 0h1m12 0h2m11 0h1m17 0h2m1 0h1m31 0h1m1 0h1m4 0h1m6 0h1m8 0h1m8 0h1m1 0h1m8 0h2m5 0h1m3 0h1m3 0h1m3 0h1m6 0h1m6 0h1m3 0h5m5 0h1m4 0h1m5 0h1m8 0h2m10 0h1m4 0h1m9 0h1m1 0h1m9 0h1m4 0h2m4 0h1M428.5 347.5h1m4 0h1m8 0h1m4 0h1m5 0h1m4 0h1m6 0h1m1 0h1m1 0h1m2 0h1m9 0h1m12 0h1m3 0h2m27 0h2m4 0h1m3 0h1m1 0h1m18 0h1m5 0h1m4 0h1m1 0h2m1 0h1m4 0h2m8 0h1m15 0h1m4 0h1m1 0h2m4 0h2m8 0h1m5 0h3m2 0h1m9 0h1m2 0h1m22 0h1m9 0h2M430.5 348.5h1m10 0h2m2 0h1m5 0h1m15 0h1m2 0h2m3 0h1m8 0h1m14 0h1m2 0h1m14 0h1m4 0h1m3 0h1m6 0h1m4 0h2m2 0h1m10 0h1m3 0h1m4 0h1m8 0h2m4 0h1m13 0h1m7 0h1m6 0h5m4 0h1m9 0h1m11 0h3m8 0h1m7 0h1m24 0h2m10 0h1M429.5 349.5h1m4 0h1m3 0h1m6 0h1m3 0h2m4 0h1m6 0h1m7 0h1m7 0h1m1 0h2m1 0h1m3 0h1m8 0h1m1 0h1m7 0h1m5 0h1m7 0h2m4 0h1m5 0h1m5 0h1m5 0h2m10 0h1m8 0h1m2 0h1m4 0h1m4 0h1m5 0h1m14 0h1m11 0h1m1 0h1m2 0h1m18 0h1m1 0h1m2 0h1m3 0h1m3 0h1m2 0h1m3 0h1m7 0h1m10 0h1m1 0h1m1 0h1m3 0h1m6 0h1m3 0h1M431.5 350.5h2m4 0h2m13 0h1m2 0h2m5 0h1m4 0h2m2 0h2m6 0h1m4 0h2m2 0h1m2 0h2m1 0h1m12 0h1m15 0h1m13 0h2m2 0h1m2 0h1m11 0h1m5 0h1m1 0h1m3 0h1m4 0h1m3 0h3m9 0h1m7 0h2m10 0h1m1 0h1m37 0h1m6 0h1m9 0h1m6 0h1m1 0h1M433.5 351.5h2m9 0h1m6 0h1m2 0h1m4 0h1m5 0h1m17 0h1m3 0h1m11 0h1m2 0h1m14 0h1m4 0h1m6 0h2m3 0h2m5 0h1m21 0h1m2 0h3m10 0h1m2 0h2m1 0h1m13 0h1m7 0h1m3 0h1m6 0h1m11 0h1m14 0h1m2 0h1m6 0h1m2 0h2m1 0h3m10 0h1m1 0h2m6 0h1m4 0h2M452.5 352.5h1m3 0h1m10 0h1m2 0h1m1 0h1m15 0h1m5 0h1m11 0h1m1 0h1m3 0h2m3 0h1m1 0h1m5 0h1m2 0h1m1 0h2m6 0h1m6 0h1m5 0h1m19 0h1m1 0h1m2 0h1m2 0h1m3 0h1m16 0h2m16 0h1m2 0h2m6 0h1m12 0h2m13 0h1m9 0h1m3 0h1m6 0h2m5 0h1M429.5 353.5h1m1 0h3m1 0h2m10 0h1m4 0h1m2 0h1m10 0h1m4 0h1m7 0h1m8 0h1m6 0h1m2 0h1m7 0h1m1 0h1m2 0h1m6 0h1m1 0h2m7 0h2m3 0h1m2 0h1m1 0h1m3 0h1m3 0h1m4 0h1m3 0h1m1 0h1m2 0h1m7 0h1m6 0h1m18 0h1m4 0h1m3 0h1m3 0h1m2 0h1m10 0h1m6 0h1m1 0h1m2 0h1m2 0h1m1 0h1m3 0h1m6 0h1m5 0h1m2 0h1m4 0h1m8 0h1m4 0h1m3 0h1m4 0h2M435.5 354.5h1m5 0h1m3 0h1m1 0h1m17 0h1m3 0h1m8 0h1m3 0h1m2 0h1m1 0h4m23 0h1m1 0h2m2 0h2m2 0h1m4 0h2m6 0h1m2 0h1m3 0h1m1 0h1m3 0h1m5 0h1m16 0h1m7 0h1m8 0h1m2 0h1m10 0h1m1 0h1m1 0h1m2 0h1m2 0h2m3 0h1m2 0h2m4 0h1m1 0h5m12 0h1m29 0h1m4 0h1m13 0h1M431.5 355.5h1m2 0h1m12 0h3m3 0h1m2 0h1m6 0h1m29 0h1m20 0h1m11 0h1m1 0h1m4 0h2m3 0h1m5 0h1m2 0h1m29 0h1m6 0h1m2 0h1m3 0h1m2 0h1m6 0h1m2 0h2m3 0h2m14 0h2m6 0h1m1 0h1m7 0h1m12 0h1m10 0h1m1 0h1m5 0h1m1 0h1m2 0h1m3 0h1m3 0h1M434.5 356.5h1m9 0h1m4 0h1m5 0h1m5 0h1m10 0h1m1 0h1m6 0h2m3 0h2m6 0h1m10 0h1m3 0h2m4 0h3m1 0h2m8 0h1m4 0h2m4 0h1m1 0h1m8 0h1m3 0h1m4 0h1m2 0h1m2 0h3m8 0h1m1 0h3m3 0h1m8 0h2m7 0h1m6 0h1m12 0h2m10 0h1m13 0h2m2 0h1m10 0h1m10 0h1m10 0h2m4 0h1M432.5 357.5h2m1 0h1m8 0h1m5 0h2m1 0h1m2 0h1m5 0h1m1 0h2m2 0h1m3 0h1m4 0h1m6 0h2m2 0h1m6 0h1m12 0h1m22 0h1m8 0h1m8 0h1m9 0h1m4 0h2m4 0h1m3 0h1m2 0h1m4 0h1m3 0h1m13 0h1m4 0h1m4 0h1m3 0h1m7 0h1m20 0h2m6 0h1m8 0h1m1 0h1m5 0h1m3 0h2m8 0h1m9 0h1M438.5 358.5h1m27 0h1m3 0h2m1 0h1m10 0h1m7 0h1m3 0h1m6 0h2m2 0h1m14 0h1m8 0h2m2 0h1m5 0h1m2 0h1m5 0h1m8 0h1m13 0h1m6 0h1m3 0h1m15 0h1m5 0h2m11 0h1m3 0h1m18 0h1m1 0h1m25 0h1m6 0h1m6 0h1M429.5 359.5h1m1 0h2m8 0h1m3 0h1m1 0h2m1 0h2m3 0h1m14 0h1m1 0h1m2 0h1m8 0h1m7 0h1m4 0h1m3 0h1m12 0h1m3 0h1m3 0h1m2 0h1m3 0h1m9 0h1m2 0h1m11 0h2m3 0h2m5 0h1m2 0h1m6 0h2m5 0h1m15 0h1m1 0h1m1 0h1m12 0h1m5 0h1m4 0h1m4 0h1m2 0h1m6 0h1m9 0h1m7 0h1m2 0h2m2 0h1m1 0h1m2 0h1m9 0h1m3 0h1m3 0h1m3 0h1M430.5 360.5h1m7 0h1m1 0h1m8 0h1m1 0h1m2 0h3m2 0h1m2 0h1m2 0h2m1 0h1m2 0h1m20 0h2m1 0h1m15 0h1m3 0h1m3 0h1m11 0h1m2 0h1m1 0h1m2 0h1m2 0h1m6 0h1m1 0h1m2 0h3m4 0h1m2 0h1m2 0h2m10 0h1m1 0h1m7 0h1m17 0h1m1 0h1m9 0h2m1 0h1m1 0h1m2 0h1m8 0h1m6 0h1m10 0h3m11 0h1m13 0h2m1 0h1M437.5 361.5h1m5 0h1m2 0h1m5 0h1m16 0h1m2 0h1m14 0h1m7 0h1m1 0h1m2 0h1m3 0h1m9 0h1m5 0h1m8 0h1m13 0h2m13 0h2m3 0h1m3 0h1m6 0h1m5 0h1m22 0h2m9 0h1m3 0h1m6 0h1m5 0h1m1 0h1m2 0h1m2 0h1m4 0h1m1 0h1m4 0h1m13 0h1m3 0h1m1 0h1m2 0h1m7 0h1m1 0h1M430.5 362.5h1m3 0h1m3 0h1m7 0h1m3 0h1m3 0h2m1 0h1m7 0h3m3 0h1m2 0h1m1 0h1m13 0h1m5 0h1m1 0h1m12 0h1m1 0h1m16 0h1m1 0h1m1 0h1m1 0h1m9 0h1m3 0h1m5 0h1m1 0h1m1 0h1m16 0h1m1 0h1m11 0h1m3 0h1m15 0h1m19 0h1m3 0h1m1 0h2m2 0h1m3 0h1m3 0h1m3 0h1m3 0h2m9 0h1m2 0h3m3 0h1m5 0h1m9 0h1M426.5 363.5h1m1 0h1m12 0h1m7 0h1m2 0h2m11 0h2m2 0h1m1 0h1m4 0h1m5 0h3m8 0h1m15 0h2m2 0h1m1 0h1m5 0h1m5 0h1m5 0h1m17 0h1m2 0h1m4 0h1m10 0h1m6 0h1m7 0h1m8 0h1m13 0h1m4 0h1m5 0h2m4 0h1m1 0h1m1 0h2m3 0h2m1 0h1m11 0h2m10 0h1m2 0h1m12 0h2m16 0h1M435.5 364.5h2m2 0h2m6 0h1m3 0h1m4 0h1m1 0h1m2 0h1m5 0h1m3 0h2m16 0h1m3 0h1m5 0h1m1 0h1m11 0h1m4 0h2m2 0h1m13 0h2m3 0h1m2 0h1m6 0h1m2 0h1m2 0h2m1 0h1m8 0h1m3 0h1m1 0h1m10 0h2m1 0h1m6 0h1m1 0h1m16 0h1m1 0h1m7 0h1m5 0h1m5 0h1m10 0h1m15 0h1m3 0h1m3 0h1m5 0h1m13 0h1M426.5 365.5h1m8 0h1m12 0h1m20 0h1m2 0h1m10 0h1m1 0h1m2 0h2m4 0h2m10 0h1m6 0h1m17 0h1m1 0h1m1 0h2m2 0h1m1 0h3m3 0h1m1 0h1m3 0h1m7 0h2m8 0h1m2 0h1m3 0h1m6 0h1m4 0h1m11 0h1m6 0h2m19 0h1m4 0h1m10 0h3m2 0h1m22 0h1m11 0h1m6 0h1M433.5 366.5h1m7 0h1m7 0h1m2 0h1m1 0h1m8 0h1m5 0h1m3 0h1m7 0h1m1 0h1m1 0h1m1 0h1m11 0h1m6 0h1m3 0h1m4 0h1m1 0h1m6 0h1m2 0h1m9 0h1m1 0h1m5 0h1m10 0h1m4 0h2m6 0h1m5 0h1m6 0h1m5 0h1m4 0h1m2 0h2m23 0h1m2 0h1m4 0h1m17 0h1m2 0h1m4 0h1m2 0h1m5 0h1m2 0h1m7 0h2m5 0h1m1 0h1m10 0h1M438.5 367.5h1m6 0h1m3 0h1m2 0h1m1 0h2m6 0h1m4 0h1m6 0h1m1 0h2m6 0h1m5 0h2m11 0h3m4 0h2m5 0h1m10 0h2m3 0h1m2 0h1m4 0h1m7 0h1m1 0h1m13 0h1m2 0h1m2 0h1m12 0h1m21 0h1m2 0h1m1 0h1m1 0h1m5 0h1m2 0h1m1 0h1m9 0h1m4 0h1m2 0h1m3 0h1m13 0h1m3 0h1m1 0h1m9 0h2m2 0h1m6 0h1m1 0h1m5 0h1M432.5 368.5h1m2 0h1m2 0h1m7 0h3m2 0h3m3 0h2m7 0h1m1 0h2m1 0h1m6 0h1m4 0h1m1 0h1m5 0h1m1 0h1m6 0h1m1 0h2m1 0h1m6 0h1m12 0h1m1 0h1m2 0h1m6 0h1m6 0h2m15 0h1m7 0h1m4 0h1m4 0h1m14 0h1m14 0h2m4 0h2m3 0h2m5 0h1m2 0h1m11 0h1m6 0h1m4 0h1m25 0h1m9 0h1m1 0h1M426.5 369.5h1m19 0h1m5 0h3m7 0h1m6 0h1m2 0h1m3 0h1m6 0h1m1 0h2m7 0h1m14 0h1m11 0h1m7 0h1m4 0h2m2 0h1m9 0h1m1 0h1m1 0h2m11 0h2m24 0h1m8 0h1m1 0h1m15 0h2m3 0h1m8 0h1m3 0h1m7 0h1m5 0h1m1 0h1m3 0h1m9 0h1m3 0h1m1 0h1m1 0h1m4 0h1m6 0h1m1 0h3m4 0h1M426.5 370.5h1m4 0h1m7 0h1m2 0h1m11 0h1m3 0h1m1 0h1m2 0h1m8 0h1m6 0h1m11 0h1m15 0h1m3 0h2m10 0h1m6 0h2m1 0h1m3 0h1m4 0h2m2 0h1m1 0h1m23 0h1m2 0h1m1 0h1m7 0h1m7 0h1m22 0h2m4 0h1m8 0h1m13 0h1m6 0h1m8 0h1m1 0h1m2 0h1m1 0h1m1 0h1m2 0h1m7 0h1m6 0h1M436.5 371.5h1m26 0h1m3 0h1m19 0h2m1 0h1m5 0h1m1 0h1m5 0h2m2 0h1m1 0h1m3 0h1m9 0h2m3 0h1m3 0h1m5 0h1m11 0h1m4 0h1m9 0h1m2 0h1m1 0h2m8 0h2m11 0h1m1 0h1m19 0h1m4 0h1m2 0h2m7 0h1m1 0h2m5 0h1m2 0h1m4 0h1m25 0h1m9 0h2m6 0h1M427.5 372.5h1m4 0h1m1 0h1m2 0h1m1 0h1m12 0h1m3 0h1m10 0h1m3 0h1m4 0h1m6 0h1m5 0h2m3 0h1m8 0h1m3 0h1m1 0h1m9 0h1m12 0h1m4 0h1m4 0h1m1 0h1m4 0h2m2 0h1m7 0h1m2 0h1m4 0h1m8 0h1m1 0h1m4 0h1m1 0h2m1 0h1m1 0h1m1 0h1m7 0h1m9 0h1m6 0h1m3 0h1m3 0h1m1 0h1m1 0h1m1 0h1m4 0h1m7 0h1m8 0h1m19 0h1m1 0h1m5 0h2m7 0h1m1 0h3M427.5 373.5h1m2 0h1m2 0h1m1 0h1m1 0h1m9 0h1m2 0h1m1 0h2m1 0h1m10 0h1m2 0h1m2 0h1m14 0h4m1 0h1m5 0h1m5 0h1m2 0h2m2 0h1m16 0h1m7 0h1m14 0h1m2 0h1m5 0h2m3 0h1m5 0h1m2 0h1m1 0h1m2 0h1m5 0h2m9 0h1m6 0h1m4 0h1m4 0h1m3 0h2m2 0h2m18 0h1m2 0h1m13 0h1m8 0h1m3 0h1m4 0h1m4 0h1m13 0h1M427.5 374.5h1m6 0h1m2 0h1m8 0h1m2 0h1m3 0h1m3 0h1m8 0h1m2 0h1m7 0h1m1 0h1m1 0h1m2 0h1m1 0h1m10 0h1m14 0h1m17 0h1m8 0h1m4 0h1m2 0h1m1 0h1m5 0h1m5 0h3m3 0h1m2 0h1m11 0h1m7 0h1m2 0h1m11 0h1m8 0h1m1 0h1m1 0h1m4 0h3m14 0h1m3 0h1m1 0h1m1 0h2m6 0h2m4 0h1m3 0h1m5 0h2m4 0h1m2 0h1m2 0h1m2 0h1m2 0h2m2 0h2M431.5 375.5h1m4 0h1m8 0h1m5 0h2m2 0h1m14 0h1m3 0h1m7 0h2m1 0h3m2 0h1m3 0h1m14 0h1m1 0h1m8 0h1m11 0h2m4 0h1m10 0h1m1 0h1m5 0h2m1 0h1m14 0h1m6 0h1m4 0h1m3 0h1m7 0h1m12 0h1m9 0h1m1 0h1m5 0h1m1 0h1m2 0h1m13 0h1m5 0h1m8 0h1m4 0h1m6 0h1m1 0h1m5 0h1m2 0h1m1 0h1m3 0h1M434.5 376.5h1m1 0h1m1 0h3m5 0h1m6 0h1m1 0h2m1 0h1m7 0h2m15 0h1m4 0h1m9 0h1m2 0h2m1 0h1m2 0h1m1 0h1m8 0h1m13 0h1m3 0h2m7 0h1m5 0h1m2 0h1m15 0h1m1 0h3m2 0h1m3 0h1m3 0h1m11 0h1m5 0h1m5 0h2m5 0h1m11 0h1m15 0h1m2 0h1m2 0h1m1 0h1m1 0h2m4 0h1m3 0h1m3 0h1m3 0h1m16 0h1m3 0h2M425.5 377.5h1m2 0h1m4 0h3m1 0h2m3 0h1m4 0h1m8 0h2m1 0h1m8 0h1m1 0h1m2 0h1m1 0h1m7 0h1m5 0h2m6 0h1m13 0h1m3 0h1m1 0h1m12 0h1m4 0h2m4 0h1m1 0h1m2 0h1m7 0h1m17 0h3m4 0h1m3 0h1m15 0h1m8 0h1m5 0h1m4 0h1m1 0h1m3 0h1m6 0h1m3 0h2m7 0h1m1 0h1m7 0h1m1 0h1m7 0h1m4 0h1m2 0h3m11 0h1M435.5 378.5h1m9 0h1m5 0h1m3 0h1m4 0h1m3 0h2m8 0h1m10 0h1m1 0h1m14 0h1m5 0h1m5 0h1m8 0h1m5 0h1m2 0h1m2 0h1m3 0h1m2 0h1m6 0h1m14 0h1m6 0h1m2 0h1m10 0h2m13 0h1m16 0h1m2 0h2m1 0h1m1 0h1m2 0h1m9 0h1m13 0h4m9 0h2m7 0h1m1 0h1m15 0h1M428.5 379.5h1m3 0h1m4 0h1m1 0h1m3 0h1m3 0h1m1 0h1m6 0h1m10 0h1m1 0h1m3 0h1m10 0h3m21 0h1m2 0h1m2 0h1m2 0h1m9 0h1m4 0h3m1 0h1m1 0h1m1 0h4m3 0h2m1 0h1m2 0h1m7 0h1m2 0h1m7 0h1m1 0h2m2 0h1m4 0h1m5 0h1m10 0h1m2 0h2m5 0h1m10 0h1m9 0h1m8 0h1m5 0h1m2 0h2m1 0h1m3 0h1m21 0h1m13 0h4M438.5 380.5h1m2 0h1m6 0h1m1 0h1m14 0h4m1 0h2m5 0h1m6 0h2m25 0h1m4 0h1m2 0h1m2 0h4m8 0h1m2 0h1m7 0h2m9 0h1m12 0h1m5 0h1m6 0h2m5 0h1m4 0h1m3 0h1m11 0h1m5 0h2m4 0h1m6 0h1m4 0h3m6 0h4m4 0h3m9 0h4m2 0h2m3 0h1m2 0h1m2 0h4m11 0h2M429.5 381.5h1m1 0h1m3 0h1m2 0h1m13 0h1m5 0h1m10 0h3m1 0h1m5 0h1m6 0h1m22 0h1m1 0h1m5 0h1m2 0h1m8 0h1m7 0h1m14 0h2m12 0h1m5 0h1m4 0h1m1 0h1m13 0h2m2 0h2m13 0h1m7 0h2m1 0h2m2 0h2m6 0h1m2 0h1m2 0h1m2 0h3m1 0h1m9 0h1m5 0h1m4 0h1m8 0h1m17 0h1M431.5 382.5h2m16 0h1m1 0h3m13 0h1m7 0h1m8 0h1m1 0h1m2 0h2m2 0h1m5 0h2m3 0h1m7 0h1m9 0h1m5 0h1m11 0h1m3 0h1m7 0h2m4 0h1m1 0h1m10 0h1m1 0h1m1 0h1m16 0h1m5 0h1m13 0h1m2 0h1m1 0h1m1 0h1m4 0h1m2 0h1m3 0h1m10 0h1m7 0h1m15 0h1m14 0h1m4 0h1m2 0h1m3 0h1M429.5 383.5h1m2 0h1m38 0h2m12 0h2m3 0h1m3 0h1m3 0h1m5 0h1m1 0h1m8 0h2m2 0h1m6 0h1m3 0h1m7 0h1m6 0h1m6 0h2m7 0h1m8 0h1m3 0h2m9 0h1m3 0h1m1 0h1m16 0h1m6 0h1m1 0h1m4 0h1m3 0h1m1 0h1m21 0h1m9 0h1m6 0h1m4 0h1m13 0h1m5 0h1m1 0h1M433.5 384.5h1m3 0h2m2 0h1m5 0h1m1 0h1m1 0h1m2 0h1m29 0h3m5 0h1m1 0h1m6 0h1m18 0h1m2 0h1m1 0h1m1 0h1m6 0h1m2 0h2m3 0h1m8 0h1m7 0h2m2 0h1m5 0h2m3 0h1m5 0h1m1 0h1m18 0h1m1 0h1m12 0h3m4 0h1m10 0h1m3 0h1m2 0h1m3 0h1m9 0h1m5 0h1m4 0h1m6 0h1m11 0h1m2 0h1m1 0h1M432.5 385.5h1m5 0h1m5 0h1m4 0h1m12 0h1m3 0h2m2 0h1m9 0h2m17 0h1m3 0h1m2 0h1m3 0h1m6 0h1m7 0h1m7 0h1m14 0h1m6 0h1m3 0h1m5 0h2m1 0h1m3 0h1m17 0h1m1 0h2m9 0h1m2 0h1m16 0h1m6 0h1m4 0h1m2 0h1m4 0h1m4 0h2m12 0h1m3 0h2m10 0h2m3 0h1m7 0h2M431.5 386.5h2m38 0h1m3 0h1m3 0h1m2 0h4m4 0h1m13 0h1m4 0h1m16 0h1m17 0h3m2 0h1m3 0h1m1 0h2m2 0h1m1 0h1m8 0h2m7 0h3m12 0h1m5 0h1m3 0h1m1 0h1m7 0h1m3 0h1m1 0h1m9 0h2m1 0h1m4 0h1m4 0h2m5 0h1m3 0h1m3 0h3m1 0h1m3 0h1m3 0h1m11 0h1m5 0h2m4 0h1M439.5 387.5h1m10 0h2m1 0h1m13 0h2m1 0h1m3 0h1m3 0h1m1 0h1m3 0h1m9 0h1m6 0h1m21 0h1m4 0h1m3 0h1m7 0h1m3 0h1m5 0h1m2 0h1m2 0h1m1 0h1m10 0h1m4 0h2m11 0h1m7 0h1m13 0h2m2 0h1m3 0h2m1 0h3m10 0h1m11 0h1m12 0h1m6 0h1m3 0h1m5 0h1m1 0h1m16 0h1M427.5 388.5h1m4 0h1m3 0h1m14 0h1m11 0h1m5 0h1m1 0h1m10 0h2m2 0h1m4 0h1m1 0h1m7 0h1m3 0h1m1 0h2m1 0h2m3 0h1m7 0h1m6 0h2m2 0h1m7 0h1m1 0h1m5 0h1m2 0h1m23 0h1m14 0h2m5 0h1m17 0h1m3 0h2m9 0h1m3 0h1m4 0h1m11 0h1m8 0h1m6 0h1m7 0h1m11 0h1m1 0h1M431.5 389.5h1m2 0h1m1 0h1m4 0h1m5 0h1m2 0h1m3 0h1m7 0h1m1 0h1m7 0h1m12 0h1m7 0h1m1 0h1m1 0h1m4 0h1m2 0h1m15 0h1m6 0h1m1 0h1m10 0h1m4 0h1m1 0h1m6 0h1m2 0h1m1 0h1m6 0h1m2 0h1m15 0h2m3 0h1m1 0h1m1 0h1m5 0h1m2 0h1m12 0h1m1 0h1m7 0h1m8 0h1m13 0h1m5 0h1m6 0h3m1 0h2m4 0h1m6 0h1m3 0h1M431.5 390.5h3m13 0h1m6 0h1m1 0h1m9 0h1m7 0h1m7 0h1m8 0h1m3 0h1m3 0h2m5 0h1m9 0h1m6 0h1m11 0h2m6 0h1m4 0h1m14 0h2m9 0h1m2 0h1m2 0h1m7 0h1m4 0h1m9 0h1m3 0h1m15 0h1m10 0h1m4 0h2m5 0h1m5 0h1m7 0h1m7 0h1m1 0h1m1 0h1m1 0h1m3 0h1m3 0h1m2 0h1m4 0h1" stroke="#c4c4c4" stroke-width="1" fill="none"/>
</g>
<line x1="481.3" y1="292" x2="481.3" y2="390.6" stroke="#777" stroke-width="0.8"/>
<line x1="426.0" y1="267.3" x2="697.3" y2="267.3" stroke="#8c8c8c" stroke-width="1"/>
<text x="363.0" y="256.7" font-size="16" font-weight="bold" fill="#000">E</text>
<line x1="426.0" y1="390.6" x2="426.0" y2="388.0" stroke="#8c8c8c" stroke-width="1"/>
<line x1="426.0" y1="267.3" x2="426.0" y2="269.90000000000003" stroke="#8c8c8c" stroke-width="1"/>
<text x="426.0" y="405.9" font-size="11.3" text-anchor="middle" fill="#262626">0.2</text>
<line x1="493.825" y1="390.6" x2="493.825" y2="388.0" stroke="#8c8c8c" stroke-width="1"/>
<line x1="493.825" y1="267.3" x2="493.825" y2="269.90000000000003" stroke="#8c8c8c" stroke-width="1"/>
<text x="493.82" y="405.9" font-size="11.3" text-anchor="middle" fill="#262626">0.3</text>
<line x1="561.65" y1="390.6" x2="561.65" y2="388.0" stroke="#8c8c8c" stroke-width="1"/>
<line x1="561.65" y1="267.3" x2="561.65" y2="269.90000000000003" stroke="#8c8c8c" stroke-width="1"/>
<text x="561.65" y="405.9" font-size="11.3" text-anchor="middle" fill="#262626">0.4</text>
<line x1="629.4749999999999" y1="390.6" x2="629.4749999999999" y2="388.0" stroke="#8c8c8c" stroke-width="1"/>
<line x1="629.4749999999999" y1="267.3" x2="629.4749999999999" y2="269.90000000000003" stroke="#8c8c8c" stroke-width="1"/>
<text x="629.47" y="405.9" font-size="11.3" text-anchor="middle" fill="#262626">0.5</text>
<line x1="697.3" y1="390.6" x2="697.3" y2="388.0" stroke="#8c8c8c" stroke-width="1"/>
<line x1="697.3" y1="267.3" x2="697.3" y2="269.90000000000003" stroke="#8c8c8c" stroke-width="1"/>
<text x="697.3" y="405.9" font-size="11.3" text-anchor="middle" fill="#262626">0.6</text>
<line x1="426.0" y1="359.77500000000003" x2="428.6" y2="359.77500000000003" stroke="#8c8c8c" stroke-width="1"/>
<line x1="697.3" y1="359.77500000000003" x2="694.6999999999999" y2="359.77500000000003" stroke="#8c8c8c" stroke-width="1"/>
<text x="420.6" y="364.88" font-size="11.3" text-anchor="end" fill="#262626">500</text>
<line x1="426.0" y1="328.95000000000005" x2="428.6" y2="328.95000000000005" stroke="#8c8c8c" stroke-width="1"/>
<line x1="697.3" y1="328.95000000000005" x2="694.6999999999999" y2="328.95000000000005" stroke="#8c8c8c" stroke-width="1"/>
<text x="420.6" y="334.05" font-size="11.3" text-anchor="end" fill="#262626">1000</text>
<line x1="426.0" y1="298.125" x2="428.6" y2="298.125" stroke="#8c8c8c" stroke-width="1"/>
<line x1="697.3" y1="298.125" x2="694.6999999999999" y2="298.125" stroke="#8c8c8c" stroke-width="1"/>
<text x="420.6" y="303.23" font-size="11.3" text-anchor="end" fill="#262626">1500</text>
<line x1="426.0" y1="267.3" x2="428.6" y2="267.3" stroke="#8c8c8c" stroke-width="1"/>
<line x1="697.3" y1="267.3" x2="694.6999999999999" y2="267.3" stroke="#8c8c8c" stroke-width="1"/>
<text x="420.6" y="272.4" font-size="11.3" text-anchor="end" fill="#262626">2000</text>
<text x="531.8" y="422.70000000000005" font-size="12.6" textLength="59.9" lengthAdjust="spacingAndGlyphs" fill="#262626">Time (sec)</text>
<g transform="translate(390.4,367.173) rotate(-90)">
<text x="0" y="0" font-size="12.6" textLength="76.6" lengthAdjust="spacingAndGlyphs" fill="#262626">Neuron Index</text>
</g>
<rect x="426.0" y="438.4" width="271.29999999999995" height="122.39999999999998" fill="none" stroke="#8c8c8c" stroke-width="1"/>
<line x1="437.0" y1="462.28" x2="437.0" y2="560.8" stroke="#000" stroke-width="2.0"/>
<line x1="442.3" y1="437.9" x2="442.3" y2="463.68" stroke="#d41c1c" stroke-width="2.0"/>
<line x1="469.6" y1="462.28" x2="469.6" y2="560.8" stroke="#000" stroke-width="2.0"/>
<line x1="474.9" y1="437.9" x2="474.9" y2="463.68" stroke="#d41c1c" stroke-width="2.0"/>
<line x1="502.2" y1="462.28" x2="502.2" y2="560.8" stroke="#000" stroke-width="2.0"/>
<line x1="507.5" y1="437.9" x2="507.5" y2="463.68" stroke="#d41c1c" stroke-width="2.0"/>
<line x1="534.8" y1="462.28" x2="534.8" y2="560.8" stroke="#000" stroke-width="2.0"/>
<line x1="540.1" y1="437.9" x2="540.1" y2="463.68" stroke="#d41c1c" stroke-width="2.0"/>
<line x1="567.4" y1="462.28" x2="567.4" y2="560.8" stroke="#000" stroke-width="2.0"/>
<line x1="572.7" y1="437.9" x2="572.7" y2="463.68" stroke="#d41c1c" stroke-width="2.0"/>
<line x1="600.0" y1="462.28" x2="600.0" y2="560.8" stroke="#000" stroke-width="2.0"/>
<line x1="605.3" y1="437.9" x2="605.3" y2="463.68" stroke="#d41c1c" stroke-width="2.0"/>
<line x1="632.6" y1="462.28" x2="632.6" y2="560.8" stroke="#000" stroke-width="2.0"/>
<line x1="637.9" y1="437.9" x2="637.9" y2="463.68" stroke="#d41c1c" stroke-width="2.0"/>
<line x1="665.2" y1="462.28" x2="665.2" y2="560.8" stroke="#000" stroke-width="2.0"/>
<line x1="670.5" y1="437.9" x2="670.5" y2="463.68" stroke="#d41c1c" stroke-width="2.0"/>
<rect x="575.5" y="452.2" width="1.4" height="1.4" fill="#e02020"/>
<text x="363.0" y="427.9" font-size="16" font-weight="bold" fill="#000">F</text>
<line x1="426.0" y1="560.8" x2="426.0" y2="558.1999999999999" stroke="#8c8c8c" stroke-width="1"/>
<line x1="426.0" y1="438.4" x2="426.0" y2="441.0" stroke="#8c8c8c" stroke-width="1"/>
<text x="426.0" y="576.1" font-size="11.3" text-anchor="middle" fill="#262626">5</text>
<line x1="480.26" y1="560.8" x2="480.26" y2="558.1999999999999" stroke="#8c8c8c" stroke-width="1"/>
<line x1="480.26" y1="438.4" x2="480.26" y2="441.0" stroke="#8c8c8c" stroke-width="1"/>
<text x="480.26" y="576.1" font-size="11.3" text-anchor="middle" fill="#262626">5.02</text>
<line x1="534.52" y1="560.8" x2="534.52" y2="558.1999999999999" stroke="#8c8c8c" stroke-width="1"/>
<line x1="534.52" y1="438.4" x2="534.52" y2="441.0" stroke="#8c8c8c" stroke-width="1"/>
<text x="534.52" y="576.1" font-size="11.3" text-anchor="middle" fill="#262626">5.04</text>
<line x1="588.78" y1="560.8" x2="588.78" y2="558.1999999999999" stroke="#8c8c8c" stroke-width="1"/>
<line x1="588.78" y1="438.4" x2="588.78" y2="441.0" stroke="#8c8c8c" stroke-width="1"/>
<text x="588.78" y="576.1" font-size="11.3" text-anchor="middle" fill="#262626">5.06</text>
<line x1="643.04" y1="560.8" x2="643.04" y2="558.1999999999999" stroke="#8c8c8c" stroke-width="1"/>
<line x1="643.04" y1="438.4" x2="643.04" y2="441.0" stroke="#8c8c8c" stroke-width="1"/>
<text x="643.04" y="576.1" font-size="11.3" text-anchor="middle" fill="#262626">5.08</text>
<line x1="697.3" y1="560.8" x2="697.3" y2="558.1999999999999" stroke="#8c8c8c" stroke-width="1"/>
<line x1="697.3" y1="438.4" x2="697.3" y2="441.0" stroke="#8c8c8c" stroke-width="1"/>
<text x="697.3" y="576.1" font-size="11.3" text-anchor="middle" fill="#262626">5.1</text>
<line x1="426.0" y1="530.1999999999999" x2="428.6" y2="530.1999999999999" stroke="#8c8c8c" stroke-width="1"/>
<line x1="697.3" y1="530.1999999999999" x2="694.6999999999999" y2="530.1999999999999" stroke="#8c8c8c" stroke-width="1"/>
<text x="420.6" y="535.3" font-size="11.3" text-anchor="end" fill="#262626">500</text>
<line x1="426.0" y1="499.59999999999997" x2="428.6" y2="499.59999999999997" stroke="#8c8c8c" stroke-width="1"/>
<line x1="697.3" y1="499.59999999999997" x2="694.6999999999999" y2="499.59999999999997" stroke="#8c8c8c" stroke-width="1"/>
<text x="420.6" y="504.7" font-size="11.3" text-anchor="end" fill="#262626">1000</text>
<line x1="426.0" y1="469.0" x2="428.6" y2="469.0" stroke="#8c8c8c" stroke-width="1"/>
<line x1="697.3" y1="469.0" x2="694.6999999999999" y2="469.0" stroke="#8c8c8c" stroke-width="1"/>
<text x="420.6" y="474.1" font-size="11.3" text-anchor="end" fill="#262626">1500</text>
<line x1="426.0" y1="438.4" x2="428.6" y2="438.4" stroke="#8c8c8c" stroke-width="1"/>
<line x1="697.3" y1="438.4" x2="694.6999999999999" y2="438.4" stroke="#8c8c8c" stroke-width="1"/>
<text x="420.6" y="443.5" font-size="11.3" text-anchor="end" fill="#262626">2000</text>
<text x="531.8" y="592.9" font-size="12.6" textLength="59.9" lengthAdjust="spacingAndGlyphs" fill="#262626">Time (sec)</text>
<g transform="translate(390.4,537.544) rotate(-90)">
<text x="0" y="0" font-size="12.6" textLength="76.6" lengthAdjust="spacingAndGlyphs" fill="#262626">Neuron Index</text>
</g>
<rect x="426.0" y="608.4" width="271.5" height="122.89999999999998" fill="none" stroke="#8c8c8c" stroke-width="1"/>
<g shape-rendering="crispEdges">
<path d="M431 633.5h10m2 0h1m6 0h9m1 0h1m2 0h1m1 0h1m2 0h9m1 0h2m6 0h9m1 0h3m4 0h7m1 0h5m6 0h1m1 0h9m6 0h1m1 0h8m9 0h9m2 0h1m7 0h4m2 0h3m1 0h3m7 0h9m1 0h2m5 0h6m1 0h4m1 0h1m1 0h1m3 0h4m1 0h5m6 0h1m1 0h1m1 0h7m9 0h2m2 0h6m5 0h1m1 0h12M428 634.5h13m8 0h4m1 0h5m3 0h2m3 0h1m1 0h6m2 0h2m2 0h3m3 0h8m1 0h2m1 0h1m1 0h1m1 0h5m2 0h6m1 0h1m3 0h12m1 0h1m6 0h8m2 0h2m7 0h8m1 0h1m6 0h5m1 0h6m4 0h1m2 0h12m3 0h1m1 0h2m1 0h10m7 0h10m2 0h1m7 0h8m3 0h1m2 0h1m2 0h5m1 0h6m2 0h2m1 0h1m2 0h8M431 635.5h11m7 0h1m1 0h7m1 0h1m6 0h1m1 0h11m5 0h1m1 0h9m1 0h1m1 0h1m3 0h3m1 0h3m1 0h4m6 0h1m2 0h5m1 0h3m8 0h9m2 0h1m6 0h10m6 0h2m1 0h12m7 0h10m8 0h11m2 0h1m5 0h3m1 0h6m6 0h1m1 0h11m5 0h12m1 0h1m7 0h8M429 636.5h1m1 0h10m9 0h10m9 0h10m6 0h10m3 0h2m2 0h1m3 0h8m1 0h2m7 0h1m1 0h7m7 0h11m9 0h9m7 0h11m1 0h1m7 0h1m1 0h8m1 0h2m5 0h14m1 0h1m4 0h2m1 0h5m6 0h13m8 0h11m8 0h9M431 637.5h12m1 0h1m6 0h9m7 0h13m6 0h10m2 0h2m5 0h3m1 0h6m8 0h11m1 0h1m6 0h8m2 0h1m5 0h13m1 0h1m6 0h9m8 0h5m1 0h4m8 0h9m1 0h1m3 0h15m6 0h12m1 0h1m3 0h3m1 0h8m2 0h1m2 0h1m3 0h10M427 638.5h1m2 0h11m1 0h1m4 0h2m1 0h10m7 0h11m8 0h11m2 0h3m3 0h9m1 0h1m6 0h11m9 0h9m5 0h1m3 0h7m2 0h1m5 0h1m1 0h2m1 0h9m7 0h10m7 0h5m1 0h5m2 0h1m2 0h2m2 0h10m6 0h2m1 0h9m1 0h2m4 0h1m1 0h10m1 0h3m3 0h10M432 639.5h9m1 0h1m6 0h11m7 0h1m1 0h9m2 0h1m7 0h9m4 0h1m2 0h11m2 0h1m2 0h1m3 0h12m5 0h11m6 0h1m1 0h11m6 0h1m1 0h11m4 0h1m2 0h11m6 0h11m4 0h1m3 0h10m5 0h1m3 0h9m1 0h1m1 0h1m4 0h10m2 0h1m5 0h10M432 640.5h9m1 0h1m2 0h1m3 0h13m6 0h9m9 0h12m4 0h1m1 0h4m1 0h6m4 0h1m1 0h1m2 0h9m2 0h1m1 0h1m3 0h10m7 0h1m1 0h12m6 0h9m2 0h1m4 0h5m1 0h5m2 0h1m1 0h1m6 0h9m6 0h1m1 0h9m1 0h1m6 0h1m1 0h9m1 0h2m3 0h1m1 0h11m6 0h1m1 0h9M427 641.5h2m3 0h10m3 0h1m4 0h10m3 0h2m1 0h1m2 0h8m2 0h1m5 0h1m1 0h3m2 0h4m1 0h2m2 0h2m2 0h9m1 0h1m2 0h1m2 0h1m1 0h9m3 0h1m4 0h10m8 0h11m4 0h1m1 0h1m1 0h9m1 0h1m3 0h1m2 0h1m1 0h4m1 0h3m3 0h1m6 0h10m1 0h3m4 0h3m1 0h6m1 0h2m6 0h11m2 0h1m2 0h3m1 0h7m9 0h3m1 0h6M426 642.5h1m4 0h11m8 0h6m1 0h4m4 0h1m1 0h1m1 0h10m6 0h6m1 0h4m1 0h3m1 0h3m1 0h2m1 0h6m3 0h1m1 0h3m2 0h9m1 0h1m5 0h3m1 0h9m1 0h2m2 0h1m1 0h9m3 0h1m3 0h13m2 0h1m3 0h7m1 0h3m5 0h2m1 0h11m5 0h1m1 0h12m6 0h1m1 0h13m3 0h11m9 0h9M431 643.5h10m1 0h1m7 0h6m1 0h2m1 0h1m9 0h8m2 0h1m4 0h2m1 0h6m4 0h1m6 0h10m2 0h1m2 0h1m1 0h1m1 0h8m9 0h2m1 0h8m2 0h1m4 0h1m1 0h7m1 0h2m1 0h1m2 0h2m1 0h10m7 0h1m1 0h9m1 0h1m5 0h11m1 0h1m7 0h10m6 0h1m2 0h9m5 0h14m4 0h1m3 0h9M429 644.5h1m1 0h11m1 0h1m4 0h9m1 0h2m6 0h1m2 0h10m3 0h1m1 0h12m9 0h10m1 0h2m3 0h11m2 0h1m3 0h2m2 0h8m2 0h1m2 0h2m3 0h8m1 0h2m6 0h2m1 0h8m3 0h1m2 0h1m2 0h8m4 0h2m3 0h11m9 0h10m5 0h1m1 0h1m1 0h7m1 0h1m4 0h12m2 0h2m1 0h1m1 0h1m1 0h10M427 645.5h1m4 0h9m1 0h2m4 0h1m1 0h11m3 0h1m3 0h10m5 0h4m1 0h9m8 0h9m1 0h1m6 0h11m2 0h1m3 0h12m2 0h1m4 0h2m1 0h10m6 0h1m2 0h7m1 0h1m1 0h3m3 0h10m7 0h12m4 0h1m1 0h12m9 0h2m1 0h7m5 0h3m1 0h11m3 0h1m2 0h9M431 646.5h10m1 0h2m7 0h9m3 0h2m4 0h10m3 0h1m1 0h13m5 0h1m1 0h10m1 0h1m7 0h11m6 0h13m5 0h12m6 0h1m2 0h11m7 0h9m8 0h11m7 0h11m3 0h1m3 0h1m2 0h9m5 0h2m2 0h11m6 0h2m1 0h2m1 0h3M429 647.5h1m1 0h1m1 0h9m9 0h9m2 0h3m5 0h6m1 0h1m8 0h9m10 0h10m2 0h1m1 0h15m5 0h1m1 0h10m1 0h1m6 0h11m1 0h1m6 0h13m2 0h4m1 0h11m6 0h9m1 0h1m6 0h1m1 0h6m1 0h2m7 0h1m1 0h9m9 0h10m6 0h1m2 0h8M427 648.5h2m1 0h13m1 0h2m4 0h10m1 0h1m1 0h2m5 0h2m1 0h5m8 0h1m1 0h7m1 0h2m7 0h10m2 0h1m1 0h1m4 0h8m11 0h8m1 0h1m2 0h1m3 0h11m2 0h1m5 0h12m2 0h1m4 0h10m8 0h10m3 0h1m2 0h1m1 0h10m7 0h7m1 0h1m3 0h1m3 0h1m2 0h11m1 0h1m7 0h8M433 649.5h2m1 0h7m2 0h1m6 0h10m7 0h10m1 0h1m5 0h1m1 0h8m1 0h1m6 0h12m1 0h1m1 0h1m1 0h13m7 0h10m1 0h1m7 0h10m3 0h1m2 0h14m3 0h3m1 0h11m8 0h8m4 0h1m4 0h10m10 0h4m2 0h3m3 0h1m3 0h12m5 0h11M433 650.5h11m5 0h2m1 0h8m8 0h10m2 0h3m3 0h10m3 0h1m5 0h11m5 0h1m1 0h10m1 0h1m5 0h11m1 0h1m7 0h10m1 0h1m3 0h1m2 0h11m5 0h11m1 0h2m7 0h9m6 0h1m2 0h10m7 0h1m1 0h5m1 0h3m6 0h1m1 0h12m4 0h7m1 0h4M426 651.5h1m6 0h8m2 0h1m7 0h10m8 0h9m3 0h1m4 0h1m1 0h9m1 0h1m7 0h10m7 0h5m2 0h3m2 0h1m1 0h1m1 0h1m2 0h11m4 0h3m1 0h9m5 0h1m3 0h7m2 0h1m1 0h2m3 0h1m1 0h11m4 0h2m1 0h9m8 0h1m1 0h10m1 0h1m5 0h10m6 0h2m1 0h11m2 0h1m1 0h2m1 0h4m1 0h1m1 0h1M431 652.5h11m1 0h1m5 0h1m1 0h9m8 0h10m10 0h3m1 0h5m7 0h1m1 0h8m1 0h1m8 0h5m1 0h2m3 0h1m4 0h4m1 0h7m6 0h2m1 0h10m7 0h6m1 0h3m1 0h3m1 0h1m1 0h2m1 0h1m1 0h3m1 0h3m2 0h1m3 0h7m1 0h6m5 0h1m1 0h10m5 0h1m1 0h11m4 0h1m2 0h11m9 0h8M432 653.5h10m8 0h10m1 0h1m4 0h1m2 0h12m6 0h10m8 0h10m8 0h9m1 0h2m2 0h1m2 0h12m7 0h13m6 0h10m4 0h1m3 0h1m1 0h10m5 0h5m1 0h6m8 0h11m8 0h8m9 0h1m1 0h9m6 0h1m1 0h8M427 654.5h2m3 0h11m1 0h4m2 0h10m2 0h1m3 0h2m1 0h10m4 0h1m3 0h10m1 0h1m5 0h2m1 0h9m6 0h1m1 0h10m3 0h1m5 0h9m2 0h1m5 0h12m2 0h1m3 0h10m9 0h8m1 0h1m1 0h1m5 0h1m1 0h9m1 0h1m4 0h1m1 0h11m1 0h1m7 0h10m1 0h1m2 0h2m1 0h8m1 0h2m5 0h1m1 0h2m2 0h2m2 0h1M429 655.5h1m4 0h12m3 0h9m5 0h1m4 0h5m1 0h5m5 0h1m4 0h6m1 0h1m6 0h12m7 0h1m1 0h10m8 0h3m1 0h5m5 0h1m1 0h3m2 0h8m3 0h1m2 0h1m1 0h10m1 0h1m1 0h2m1 0h12m1 0h1m5 0h11m1 0h1m5 0h2m1 0h9m5 0h1m2 0h8m1 0h1m2 0h1m1 0h1m3 0h11m4 0h1m1 0h9M426 656.5h1m6 0h8m1 0h2m1 0h1m3 0h2m1 0h8m3 0h1m4 0h1m1 0h9m8 0h2m2 0h6m5 0h1m1 0h12m7 0h11m4 0h1m2 0h4m2 0h4m1 0h2m6 0h2m1 0h7m8 0h9m1 0h1m8 0h9m1 0h1m7 0h8m3 0h1m1 0h1m1 0h1m1 0h12m7 0h9m1 0h2m7 0h10m8 0h9M426 657.5h1m2 0h1m2 0h13m1 0h1m2 0h1m1 0h9m9 0h11m7 0h11m1 0h1m4 0h1m1 0h9m9 0h11m5 0h2m1 0h10m1 0h1m4 0h13m5 0h1m1 0h8m9 0h11m8 0h11m7 0h12m7 0h8m1 0h1m6 0h11m3 0h1m3 0h1m1 0h9M430 658.5h5m1 0h6m6 0h14m6 0h12m7 0h12m4 0h13m1 0h1m5 0h12m4 0h16m5 0h8m1 0h2m1 0h2m3 0h3m2 0h7m7 0h10m1 0h1m6 0h3m1 0h8m4 0h3m1 0h11m2 0h1m1 0h1m2 0h10m1 0h1m5 0h11m1 0h1m2 0h4m1 0h8M428 659.5h1m1 0h1m1 0h9m3 0h2m3 0h12m8 0h11m1 0h1m5 0h7m1 0h2m8 0h1m1 0h9m1 0h1m4 0h12m6 0h1m1 0h8m6 0h1m3 0h8m1 0h1m2 0h1m4 0h1m1 0h3m1 0h5m4 0h1m4 0h10m1 0h1m6 0h11m4 0h2m1 0h10m4 0h2m1 0h11m1 0h1m5 0h1m1 0h10m1 0h1m1 0h1m3 0h10M433 660.5h9m1 0h1m5 0h1m1 0h9m8 0h1m1 0h9m7 0h9m3 0h2m4 0h2m1 0h7m3 0h1m6 0h12m3 0h2m1 0h1m1 0h9m4 0h1m1 0h11m2 0h1m5 0h12m7 0h10m1 0h1m5 0h11m8 0h1m1 0h12m4 0h1m1 0h7m8 0h2m2 0h9m1 0h2m3 0h10M434 661.5h10m5 0h1m1 0h10m7 0h1m1 0h3m1 0h4m1 0h1m5 0h1m1 0h7m1 0h3m5 0h3m1 0h8m1 0h1m2 0h3m1 0h9m2 0h1m4 0h1m1 0h9m1 0h2m8 0h9m2 0h1m6 0h10m9 0h9m7 0h12m7 0h11m1 0h1m5 0h15m5 0h8m8 0h2m1 0h7M429 662.5h2m1 0h1m1 0h8m3 0h1m6 0h4m1 0h3m1 0h1m3 0h1m3 0h11m1 0h1m6 0h8m2 0h1m4 0h2m1 0h12m6 0h10m7 0h12m1 0h1m1 0h1m2 0h6m1 0h4m10 0h9m4 0h1m1 0h1m2 0h10m6 0h11m10 0h6m1 0h1m2 0h1m2 0h2m1 0h7m2 0h4m6 0h9m1 0h2m2 0h1m2 0h2m1 0h7M426 663.5h1m2 0h2m1 0h11m4 0h1m3 0h8m4 0h1m4 0h10m1 0h1m1 0h2m3 0h9m1 0h3m7 0h11m2 0h1m3 0h10m2 0h1m3 0h1m1 0h1m1 0h9m1 0h2m5 0h4m1 0h5m5 0h8m1 0h6m6 0h9m2 0h1m6 0h12m7 0h1m1 0h8m4 0h2m1 0h11m2 0h1m4 0h13m5 0h1m1 0h1m1 0h7M427 664.5h3m1 0h1m1 0h8m1 0h4m5 0h8m1 0h2m1 0h1m4 0h1m1 0h9m2 0h1m2 0h1m3 0h8m4 0h1m3 0h1m1 0h9m3 0h1m5 0h9m1 0h3m5 0h12m5 0h5m1 0h6m5 0h1m1 0h11m7 0h12m1 0h1m3 0h12m7 0h12m7 0h9m1 0h2m6 0h1m1 0h2m1 0h5m1 0h1m5 0h1m2 0h7M431 665.5h1m1 0h9m1 0h1m2 0h1m4 0h8m1 0h1m2 0h1m3 0h2m2 0h8m6 0h13m1 0h2m6 0h9m5 0h1m3 0h9m8 0h10m6 0h2m2 0h9m1 0h1m3 0h11m1 0h1m1 0h1m7 0h4m1 0h6m3 0h2m2 0h1m1 0h6m1 0h1m7 0h3m2 0h7m6 0h11m7 0h1m1 0h6m1 0h1m5 0h1m1 0h1m1 0h9M431 666.5h1m1 0h7m1 0h1m1 0h1m6 0h10m1 0h1m1 0h1m4 0h12m1 0h2m3 0h1m1 0h9m9 0h1m1 0h6m1 0h2m4 0h13m4 0h1m4 0h8m2 0h1m6 0h12m7 0h10m3 0h1m5 0h10m1 0h2m4 0h1m1 0h9m1 0h1m3 0h1m1 0h11m6 0h12m7 0h11m8 0h9M432 667.5h9m1 0h1m4 0h1m3 0h9m1 0h1m4 0h1m2 0h10m1 0h2m1 0h1m2 0h1m3 0h10m4 0h1m1 0h2m1 0h7m8 0h11m2 0h1m3 0h6m1 0h4m1 0h2m4 0h11m8 0h10m6 0h2m1 0h8m1 0h3m1 0h1m3 0h13m3 0h1m3 0h10m8 0h10m3 0h1m2 0h1m2 0h5m1 0h4m9 0h7M432 668.5h12m7 0h8m3 0h1m5 0h10m2 0h2m6 0h9m9 0h11m1 0h1m3 0h1m1 0h6m1 0h2m4 0h1m2 0h1m1 0h5m1 0h2m1 0h1m1 0h1m7 0h11m5 0h11m9 0h10m9 0h10m5 0h2m1 0h8m3 0h1m3 0h1m3 0h9m5 0h1m1 0h12m5 0h11M433 669.5h11m1 0h1m3 0h12m6 0h1m2 0h9m1 0h1m1 0h1m2 0h10m1 0h3m5 0h13m3 0h1m2 0h11m1 0h1m3 0h2m1 0h10m1 0h1m2 0h1m4 0h9m1 0h2m2 0h2m1 0h1m1 0h9m5 0h1m1 0h10m1 0h1m7 0h11m4 0h13m8 0h5m1 0h4m2 0h1m6 0h1m1 0h9m6 0h10M433 670.5h11m5 0h2m1 0h10m6 0h1m1 0h9m8 0h10m4 0h1m3 0h9m6 0h2m1 0h1m1 0h10m2 0h1m1 0h1m1 0h2m1 0h6m1 0h3m6 0h9m9 0h11m8 0h10m1 0h1m3 0h1m3 0h9m5 0h1m4 0h8m1 0h1m3 0h1m2 0h8m3 0h2m2 0h2m1 0h11m1 0h1m6 0h9M428 671.5h1m4 0h9m9 0h8m1 0h3m4 0h12m10 0h9m7 0h10m5 0h1m3 0h11m6 0h1m3 0h8m7 0h14m3 0h1m1 0h9m5 0h1m1 0h14m5 0h12m1 0h1m5 0h1m1 0h8m1 0h1m5 0h1m2 0h6m1 0h4m2 0h1m4 0h10m6 0h2m1 0h7M427 672.5h2m3 0h1m1 0h8m3 0h2m4 0h8m8 0h8m1 0h4m9 0h1m1 0h6m2 0h1m4 0h13m7 0h7m1 0h2m8 0h10m6 0h1m1 0h11m7 0h11m8 0h2m2 0h6m7 0h12m9 0h8m1 0h2m5 0h1m1 0h7m1 0h2m7 0h9m1 0h1m7 0h9M429 673.5h2m1 0h11m6 0h2m1 0h9m8 0h2m1 0h7m5 0h1m1 0h10m8 0h12m7 0h10m9 0h3m1 0h6m8 0h11m2 0h1m5 0h9m5 0h1m2 0h1m1 0h8m8 0h1m1 0h9m1 0h2m5 0h2m1 0h7m3 0h1m1 0h1m2 0h10m8 0h9m1 0h6m2 0h10M430 674.5h2m1 0h9m3 0h1m3 0h11m5 0h1m3 0h10m7 0h1m1 0h9m8 0h10m8 0h1m1 0h4m1 0h4m8 0h3m1 0h1m1 0h1m1 0h3m7 0h12m5 0h6m1 0h6m1 0h1m1 0h1m1 0h1m2 0h9m4 0h1m2 0h1m1 0h1m1 0h7m1 0h1m7 0h10m2 0h1m1 0h3m1 0h10m2 0h1m3 0h1m1 0h10m1 0h2m4 0h10M427 675.5h1m5 0h9m8 0h11m3 0h1m2 0h12m3 0h2m2 0h11m7 0h11m3 0h1m2 0h2m1 0h5m1 0h3m3 0h1m7 0h8m8 0h1m1 0h10m1 0h1m1 0h1m2 0h5m1 0h5m1 0h1m5 0h10m5 0h1m3 0h2m1 0h7m5 0h1m1 0h1m1 0h9m1 0h1m1 0h1m3 0h1m2 0h5m1 0h2m1 0h3m3 0h2m1 0h9m9 0h8M427 676.5h1m4 0h11m8 0h10m9 0h9m8 0h10m8 0h10m6 0h2m2 0h1m1 0h8m5 0h1m1 0h2m2 0h6m3 0h1m4 0h10m1 0h2m5 0h11m6 0h1m1 0h12m7 0h9m8 0h11m6 0h13m7 0h9m1 0h1m3 0h1m2 0h1m1 0h7M434 677.5h9m5 0h12m2 0h1m4 0h12m1 0h1m4 0h12m7 0h12m1 0h1m1 0h1m1 0h1m1 0h2m1 0h7m5 0h1m2 0h1m1 0h10m1 0h1m1 0h2m1 0h1m2 0h1m1 0h6m6 0h1m2 0h10m5 0h1m2 0h1m1 0h8m6 0h1m1 0h10m8 0h11m8 0h11m3 0h1m3 0h10m3 0h1m5 0h8M430 678.5h1m1 0h10m6 0h2m1 0h8m2 0h1m2 0h1m2 0h1m1 0h11m5 0h11m6 0h2m2 0h10m6 0h13m2 0h1m1 0h1m1 0h12m2 0h1m2 0h2m2 0h9m8 0h8m1 0h3m6 0h10m8 0h9m1 0h2m6 0h1m1 0h7m11 0h11m6 0h10m3 0h1m4 0h9M431 679.5h10m1 0h2m1 0h1m4 0h9m2 0h2m3 0h1m1 0h4m1 0h7m5 0h11m1 0h1m1 0h1m5 0h9m1 0h1m8 0h11m6 0h2m1 0h9m8 0h10m5 0h2m1 0h9m2 0h1m5 0h9m1 0h4m4 0h1m1 0h10m1 0h2m5 0h8m1 0h1m7 0h1m1 0h4m2 0h1m8 0h2m1 0h1m1 0h5m1 0h1m8 0h9M430 680.5h10m1 0h1m7 0h14m4 0h1m1 0h10m2 0h1m5 0h11m6 0h13m3 0h1m2 0h11m7 0h1m1 0h9m5 0h1m3 0h8m7 0h1m1 0h14m3 0h1m3 0h7m9 0h9m3 0h1m4 0h1m1 0h3m1 0h4m9 0h1m2 0h9m6 0h11m8 0h1m1 0h7M430 681.5h3m1 0h6m1 0h1m2 0h1m3 0h2m1 0h10m8 0h10m7 0h12m3 0h1m3 0h12m2 0h1m2 0h3m1 0h9m1 0h1m4 0h11m3 0h1m2 0h1m2 0h9m4 0h1m2 0h14m6 0h1m1 0h8m3 0h1m2 0h1m1 0h10m10 0h7m6 0h1m2 0h3m1 0h7m7 0h9m1 0h1m7 0h2m1 0h7M428 682.5h1m2 0h9m1 0h2m4 0h1m2 0h12m2 0h1m3 0h12m5 0h1m2 0h10m3 0h1m3 0h11m7 0h9m2 0h1m6 0h11m9 0h8m1 0h1m6 0h1m1 0h10m7 0h10m1 0h1m2 0h1m4 0h10m1 0h1m6 0h11m4 0h1m2 0h2m1 0h9m6 0h9m2 0h1m7 0h9M431 683.5h12m7 0h10m4 0h1m3 0h12m5 0h13m1 0h1m5 0h1m1 0h8m8 0h11m3 0h1m3 0h10m8 0h1m1 0h11m5 0h11m9 0h5m2 0h3m7 0h13m5 0h1m1 0h9m5 0h1m2 0h1m1 0h8m5 0h1m2 0h1m1 0h11m6 0h9M432 684.5h2m1 0h7m5 0h1m2 0h10m7 0h12m6 0h1m1 0h11m8 0h8m3 0h1m6 0h3m1 0h6m5 0h1m3 0h9m1 0h1m6 0h4m2 0h3m1 0h2m3 0h1m1 0h1m2 0h8m1 0h1m5 0h1m1 0h9m3 0h1m1 0h1m1 0h13m1 0h1m2 0h1m1 0h1m1 0h10m5 0h2m1 0h10m6 0h2m1 0h9m4 0h2m2 0h9M427 685.5h1m3 0h11m3 0h2m2 0h11m1 0h1m5 0h1m1 0h9m2 0h2m3 0h1m2 0h11m4 0h12m1 0h1m7 0h3m1 0h4m11 0h11m7 0h9m4 0h2m1 0h11m8 0h13m2 0h1m2 0h11m2 0h2m5 0h7m2 0h2m4 0h15m4 0h4m1 0h8m5 0h11M426 686.5h1m6 0h9m1 0h1m2 0h14m1 0h1m4 0h12m7 0h1m2 0h10m7 0h2m1 0h9m6 0h10m2 0h1m6 0h11m8 0h9m2 0h1m4 0h11m1 0h1m4 0h2m1 0h10m1 0h1m4 0h1m1 0h10m7 0h1m1 0h9m1 0h1m5 0h13m5 0h3m1 0h9m3 0h1m5 0h7M426 687.5h1m1 0h2m1 0h13m2 0h4m1 0h10m6 0h11m5 0h1m2 0h5m1 0h5m2 0h2m7 0h2m1 0h6m5 0h10m12 0h7m1 0h1m2 0h1m2 0h1m1 0h11m8 0h10m1 0h2m3 0h1m1 0h10m4 0h1m2 0h1m1 0h9m8 0h11m8 0h11m7 0h9m8 0h2m1 0h7M432 688.5h10m1 0h1m4 0h2m1 0h8m1 0h2m5 0h1m1 0h11m3 0h1m1 0h10m8 0h3m1 0h6m11 0h8m1 0h1m7 0h12m6 0h13m2 0h2m4 0h9m1 0h1m1 0h1m2 0h10m1 0h2m7 0h9m1 0h1m1 0h1m5 0h11m3 0h1m3 0h1m1 0h4m1 0h4m1 0h1m3 0h1m1 0h1m1 0h2m1 0h5m1 0h1m1 0h1m5 0h5m1 0h3M431 689.5h10m1 0h2m4 0h2m2 0h10m1 0h3m3 0h11m3 0h1m2 0h10m4 0h1m4 0h10m7 0h9m1 0h1m7 0h1m1 0h9m9 0h9m2 0h1m4 0h1m1 0h10m7 0h12m6 0h1m1 0h2m2 0h7m8 0h10m7 0h11m9 0h8m1 0h2m8 0h7M431 690.5h10m11 0h7m1 0h1m7 0h13m2 0h1m1 0h12m7 0h7m1 0h4m6 0h12m8 0h9m2 0h1m6 0h11m1 0h1m2 0h1m2 0h1m1 0h7m2 0h1m6 0h10m4 0h1m8 0h9m3 0h12m2 0h1m7 0h8m9 0h9m4 0h1m1 0h12M427 691.5h1m1 0h2m3 0h8m9 0h10m5 0h1m1 0h9m5 0h2m2 0h1m1 0h8m3 0h2m4 0h12m1 0h1m4 0h10m6 0h1m2 0h13m3 0h13m1 0h1m5 0h1m1 0h5m4 0h2m3 0h1m2 0h10m8 0h7m1 0h1m2 0h1m1 0h1m1 0h1m1 0h11m1 0h1m7 0h10m4 0h1m2 0h1m1 0h6m5 0h1m2 0h1m3 0h8M430 692.5h1m2 0h9m8 0h11m8 0h8m1 0h1m4 0h1m2 0h9m1 0h2m2 0h1m3 0h11m8 0h9m7 0h1m1 0h11m2 0h1m5 0h3m1 0h5m1 0h3m5 0h12m4 0h2m1 0h9m2 0h1m1 0h1m2 0h1m1 0h4m1 0h4m1 0h2m7 0h9m9 0h8m3 0h1m2 0h1m4 0h8m1 0h1m6 0h10M430 693.5h2m1 0h9m8 0h6m1 0h2m3 0h3m5 0h9m1 0h1m2 0h1m3 0h12m4 0h12m3 0h1m4 0h10m3 0h1m4 0h12m8 0h2m1 0h5m2 0h2m1 0h1m2 0h7m1 0h2m1 0h2m1 0h1m2 0h2m1 0h9m1 0h1m3 0h2m1 0h10m8 0h12m6 0h1m1 0h10m7 0h11m7 0h10M431 694.5h1m1 0h10m1 0h1m7 0h8m2 0h1m1 0h11m1 0h2m6 0h1m1 0h10m7 0h1m1 0h10m8 0h11m7 0h10m1 0h1m4 0h1m1 0h11m6 0h12m4 0h1m4 0h9m8 0h10m1 0h1m8 0h11m8 0h8m8 0h10m2 0h1m6 0h9M428 695.5h7m1 0h5m7 0h1m1 0h9m1 0h1m1 0h1m1 0h2m1 0h11m4 0h3m2 0h10m4 0h1m2 0h12m7 0h9m1 0h2m4 0h1m1 0h10m1 0h1m1 0h1m3 0h13m5 0h1m1 0h11m5 0h1m1 0h11m4 0h1m2 0h10m1 0h1m6 0h1m1 0h7m10 0h10m5 0h1m2 0h12m2 0h1m5 0h8M430 696.5h12m8 0h8m1 0h2m6 0h11m1 0h1m5 0h7m1 0h3m6 0h1m1 0h1m1 0h8m1 0h1m1 0h1m4 0h10m1 0h2m4 0h11m1 0h2m5 0h4m1 0h6m7 0h1m1 0h11m4 0h2m1 0h12m4 0h1m2 0h4m2 0h5m3 0h1m3 0h10m8 0h11m3 0h1m5 0h3m1 0h6m2 0h1m4 0h9M426 697.5h1m3 0h1m1 0h8m9 0h11m8 0h11m4 0h3m2 0h8m8 0h13m5 0h10m9 0h11m6 0h3m1 0h6m1 0h1m8 0h12m3 0h3m1 0h10m7 0h11m8 0h9m8 0h1m1 0h6m1 0h4m5 0h1m1 0h10m1 0h1m7 0h7M432 698.5h8m5 0h1m4 0h9m4 0h3m2 0h9m1 0h2m3 0h3m2 0h10m1 0h2m2 0h1m1 0h9m1 0h1m3 0h1m2 0h4m1 0h1m1 0h2m9 0h5m1 0h7m6 0h2m1 0h8m4 0h1m2 0h11m3 0h1m3 0h12m6 0h11m11 0h7m1 0h2m2 0h1m2 0h1m1 0h10m1 0h1m3 0h11m1 0h1m6 0h1m1 0h9M432 699.5h11m1 0h1m3 0h11m2 0h1m2 0h1m1 0h1m1 0h11m7 0h1m1 0h10m5 0h12m8 0h10m8 0h9m2 0h1m6 0h10m1 0h1m7 0h9m9 0h10m7 0h11m7 0h1m1 0h10m1 0h1m1 0h2m3 0h9m1 0h1m7 0h10m9 0h9M429 700.5h13m3 0h1m2 0h1m1 0h9m1 0h4m2 0h9m1 0h2m6 0h2m1 0h11m5 0h1m1 0h10m6 0h1m1 0h1m1 0h8m10 0h7m1 0h2m3 0h1m2 0h12m5 0h10m3 0h1m2 0h1m4 0h7m4 0h1m3 0h1m1 0h1m1 0h8m2 0h2m5 0h5m1 0h5m5 0h11m1 0h1m5 0h1m2 0h10m5 0h1m2 0h9M430 701.5h10m11 0h8m6 0h1m1 0h2m1 0h7m7 0h1m1 0h9m1 0h1m6 0h10m1 0h3m3 0h1m4 0h8m10 0h7m1 0h1m3 0h1m1 0h1m1 0h9m1 0h2m3 0h1m2 0h1m1 0h10m2 0h1m3 0h1m1 0h10m1 0h1m3 0h1m1 0h9m2 0h1m3 0h1m3 0h4m1 0h4m4 0h1m4 0h9m1 0h1m3 0h3m1 0h9m1 0h2m4 0h1m1 0h1m1 0h7M431 702.5h9m1 0h3m5 0h1m1 0h8m1 0h1m5 0h13m4 0h1m1 0h10m1 0h3m3 0h1m2 0h10m1 0h2m5 0h13m5 0h11m9 0h10m7 0h11m1 0h3m3 0h10m2 0h1m5 0h12m6 0h10m9 0h10m4 0h1m1 0h1m1 0h13m5 0h10M432 703.5h9m2 0h1m5 0h10m1 0h2m5 0h10m2 0h1m6 0h9m7 0h1m1 0h11m3 0h1m3 0h1m1 0h8m8 0h10m1 0h2m2 0h1m1 0h3m1 0h2m1 0h6m8 0h11m3 0h1m1 0h1m2 0h9m2 0h1m4 0h12m6 0h2m1 0h8m10 0h9m8 0h11m7 0h10M429 704.5h1m1 0h11m3 0h1m1 0h1m2 0h12m5 0h10m9 0h12m4 0h1m2 0h7m1 0h3m2 0h1m6 0h6m9 0h5m3 0h5m2 0h2m1 0h2m1 0h2m1 0h5m9 0h9m1 0h2m4 0h12m5 0h3m1 0h8m1 0h1m2 0h1m3 0h1m1 0h9m4 0h2m2 0h5m2 0h4m1 0h1m6 0h9m5 0h1m1 0h1m2 0h8M430 705.5h12m5 0h9m1 0h1m1 0h3m4 0h11m9 0h1m1 0h9m9 0h8m1 0h1m6 0h11m8 0h10m4 0h1m4 0h10m6 0h1m1 0h3m1 0h2m2 0h1m1 0h1m5 0h1m2 0h4m1 0h4m1 0h1m5 0h12m4 0h2m2 0h10m4 0h1m1 0h1m1 0h10m1 0h1m3 0h1m1 0h1m1 0h8m7 0h12M433 706.5h9m2 0h2m3 0h6m1 0h3m2 0h1m7 0h3m1 0h5m1 0h1m3 0h1m3 0h8m7 0h1m3 0h8m1 0h1m7 0h7m1 0h3m3 0h1m1 0h11m4 0h1m4 0h10m7 0h13m2 0h2m4 0h4m1 0h4m7 0h1m1 0h9m2 0h1m3 0h1m3 0h8m9 0h11m7 0h11m6 0h11M431 707.5h11m8 0h9m1 0h1m5 0h1m1 0h10m9 0h8m7 0h1m2 0h12m3 0h1m2 0h10m1 0h1m7 0h7m1 0h2m5 0h1m1 0h7m1 0h5m6 0h1m1 0h5m2 0h1m3 0h1m5 0h4m1 0h5m7 0h11m8 0h8m1 0h3m5 0h12m7 0h10m7 0h1m1 0h9M429 708.5h13m7 0h3m1 0h7m6 0h12m8 0h8m2 0h1m6 0h11m8 0h11m1 0h2m4 0h11m1 0h1m1 0h1m5 0h10m1 0h1m6 0h11m6 0h1m1 0h8m1 0h1m5 0h12m7 0h10m1 0h1m7 0h2m1 0h10m6 0h4m1 0h7m5 0h11M432 709.5h9m1 0h1m6 0h11m6 0h11m1 0h1m2 0h1m3 0h13m4 0h14m8 0h9m2 0h1m4 0h12m1 0h2m5 0h10m7 0h1m1 0h8m1 0h1m7 0h11m4 0h12m5 0h1m4 0h10m8 0h9m5 0h1m4 0h8m1 0h1m6 0h3m1 0h7M426 710.5h1m4 0h3m1 0h6m7 0h3m2 0h7m2 0h1m1 0h2m2 0h12m1 0h1m4 0h1m1 0h8m6 0h1m2 0h9m1 0h1m6 0h12m7 0h5m1 0h5m6 0h11m1 0h1m7 0h8m1 0h1m8 0h10m7 0h10m1 0h1m7 0h3m1 0h6m7 0h11m9 0h11m7 0h1m1 0h8M430 711.5h10m1 0h1m6 0h1m3 0h8m7 0h11m7 0h1m1 0h9m4 0h1m3 0h12m7 0h5m1 0h5m3 0h1m2 0h4m1 0h4m1 0h3m7 0h10m5 0h1m1 0h10m1 0h1m6 0h10m3 0h1m3 0h1m1 0h8m1 0h2m7 0h10m1 0h1m1 0h1m2 0h1m1 0h10m2 0h1m1 0h1m2 0h11m1 0h1m3 0h1m2 0h1m1 0h9M432 712.5h7m9 0h11m8 0h11m7 0h1m2 0h7m6 0h2m2 0h9m4 0h1m3 0h5m2 0h2m6 0h1m2 0h1m1 0h9m2 0h1m5 0h11m1 0h1m4 0h1m2 0h10m2 0h1m3 0h4m1 0h5m8 0h10m2 0h1m4 0h1m1 0h12m3 0h1m1 0h10m1 0h2m3 0h2m1 0h11m8 0h5m1 0h4M431 713.5h10m10 0h10m3 0h3m1 0h8m3 0h1m4 0h11m1 0h1m5 0h2m1 0h10m3 0h1m3 0h10m1 0h2m2 0h1m2 0h10m6 0h2m1 0h11m2 0h1m2 0h1m1 0h1m1 0h9m9 0h8m8 0h1m1 0h2m1 0h5m2 0h1m6 0h1m1 0h10m5 0h4m1 0h7m4 0h2m1 0h13m5 0h1m1 0h9M432 714.5h9m9 0h12m2 0h1m2 0h3m1 0h6m7 0h1m1 0h12m7 0h9m7 0h1m1 0h10m2 0h1m4 0h1m1 0h9m5 0h15m1 0h1m1 0h1m2 0h13m6 0h11m6 0h10m8 0h10m1 0h2m6 0h10m8 0h9m1 0h1m7 0h11M430 715.5h10m8 0h1m2 0h11m5 0h1m1 0h8m9 0h6m1 0h3m4 0h1m2 0h1m2 0h7m1 0h1m3 0h1m1 0h1m1 0h11m7 0h1m1 0h6m1 0h2m1 0h2m4 0h11m1 0h2m2 0h1m2 0h12m6 0h12m7 0h10m1 0h1m6 0h7m1 0h4m1 0h1m5 0h9m1 0h1m3 0h2m1 0h11m1 0h1m5 0h1m1 0h9M426 716.5h2m2 0h8m1 0h2m7 0h1m1 0h10m1 0h1m5 0h3m1 0h7m7 0h1m2 0h9m2 0h1m2 0h1m1 0h1m1 0h9m2 0h2m3 0h10m2 0h1m7 0h9m4 0h1m1 0h1m2 0h8m9 0h10m10 0h10m6 0h12m7 0h1m1 0h10m1 0h1m4 0h10m1 0h1m8 0h8m8 0h11M431 717.5h8m1 0h2m7 0h10m7 0h1m1 0h10m5 0h1m1 0h1m1 0h10m7 0h9m4 0h2m2 0h11m1 0h1m6 0h11m6 0h2m1 0h8m10 0h9m7 0h1m1 0h10m6 0h1m1 0h12m6 0h11m7 0h1m1 0h10m8 0h9m3 0h3m1 0h11M427 718.5h1m3 0h12m5 0h14m1 0h1m2 0h10m1 0h2m6 0h10m1 0h1m1 0h1m3 0h1m1 0h1m1 0h9m5 0h1m2 0h7m2 0h1m1 0h2m4 0h1m1 0h11m2 0h2m3 0h9m3 0h2m2 0h10m1 0h1m5 0h2m1 0h9m1 0h1m8 0h11m5 0h2m1 0h8m10 0h9m5 0h1m1 0h11m1 0h1m3 0h1m3 0h9M427 719.5h1m3 0h9m1 0h2m7 0h10m4 0h1m2 0h12m3 0h2m2 0h10m1 0h3m2 0h1m1 0h6m1 0h5m6 0h1m1 0h9m1 0h1m5 0h9m2 0h2m3 0h2m3 0h7m1 0h1m2 0h1m2 0h1m2 0h9m7 0h1m1 0h11m1 0h1m3 0h2m2 0h9m1 0h1m1 0h1m2 0h12m6 0h1m2 0h7m1 0h1m1 0h1m3 0h13m3 0h1m2 0h1m1 0h10M430 720.5h1m2 0h10m1 0h1m4 0h12m3 0h1m4 0h9m7 0h10m2 0h2m3 0h1m1 0h1m1 0h9m6 0h2m1 0h10m6 0h11m1 0h1m5 0h11m4 0h2m3 0h10m4 0h2m1 0h9m1 0h1m1 0h1m6 0h9m1 0h1m6 0h11m10 0h5m1 0h3m8 0h3m2 0h4m7 0h1m1 0h4m1 0h5M432 721.5h9m1 0h1m6 0h11m8 0h10m5 0h1m1 0h2m1 0h7m2 0h2m1 0h1m3 0h9m8 0h2m1 0h9m2 0h2m4 0h10m1 0h1m6 0h11m7 0h9m2 0h1m3 0h1m3 0h11m2 0h1m4 0h10m1 0h1m4 0h14m5 0h2m1 0h8m2 0h1m7 0h8m1 0h1m5 0h12M430 722.5h1m1 0h1m1 0h9m6 0h5m1 0h3m2 0h1m7 0h11m8 0h11m6 0h8m1 0h1m7 0h3m2 0h7m1 0h1m6 0h11m3 0h2m1 0h12m1 0h1m1 0h1m3 0h9m1 0h1m7 0h13m1 0h1m4 0h12m3 0h2m1 0h10m7 0h1m1 0h10m1 0h1m5 0h11m8 0h10M430 723.5h12m5 0h1m2 0h9m2 0h2m4 0h3m1 0h7m6 0h1m1 0h9m1 0h1m3 0h1m3 0h12m6 0h3m1 0h7m6 0h9m2 0h3m2 0h1m2 0h3m1 0h6m1 0h1m1 0h1m2 0h1m3 0h10m7 0h1m1 0h9m1 0h1m5 0h13m5 0h12m1 0h1m3 0h1m1 0h13m4 0h14m5 0h3m1 0h7M430 724.5h1m2 0h7m7 0h1m1 0h1m1 0h8m1 0h1m6 0h11m9 0h9m6 0h1m1 0h5m2 0h4m8 0h8m1 0h1m6 0h10m10 0h1m2 0h8m4 0h1m2 0h10m1 0h1m8 0h10m6 0h1m1 0h5m1 0h4m8 0h11m5 0h11m2 0h1m6 0h10m6 0h1m1 0h10M430 725.5h2m1 0h8m1 0h1m4 0h1m1 0h13m5 0h10m7 0h2m1 0h8m1 0h1m7 0h11m5 0h1m2 0h8m1 0h2m7 0h9m3 0h2m2 0h12m4 0h5m1 0h7m1 0h1m1 0h1m3 0h14m3 0h1m2 0h2m1 0h9m8 0h12m7 0h9m7 0h1m1 0h9m3 0h1m5 0h9M427 726.5h1m1 0h1m2 0h8m1 0h1m5 0h1m1 0h10m10 0h9m6 0h2m1 0h9m8 0h11m1 0h1m5 0h10m6 0h2m1 0h9m7 0h12m3 0h2m3 0h9m5 0h2m3 0h4m2 0h5m6 0h11m8 0h10m8 0h12m8 0h10m6 0h10M431 727.5h11m4 0h1m3 0h10m8 0h10m8 0h11m6 0h7m1 0h2m2 0h1m1 0h1m5 0h8m9 0h11m7 0h11m1 0h1m5 0h10m7 0h6m1 0h5m7 0h10m2 0h1m7 0h10m1 0h1m1 0h1m3 0h9m8 0h1m2 0h8m2 0h1m5 0h12M426 728.5h4m1 0h10m2 0h1m2 0h1m2 0h10m1 0h1m7 0h11m5 0h5m1 0h8m7 0h8m7 0h1m1 0h11m9 0h9m6 0h12m3 0h1m4 0h10m6 0h1m1 0h1m1 0h1m1 0h3m1 0h4m6 0h1m1 0h8m9 0h3m1 0h8m7 0h11m5 0h1m2 0h11m6 0h3m3 0h4M426 729.5h1m2 0h11m4 0h1m5 0h9m5 0h1m3 0h12m7 0h10m1 0h1m5 0h9m10 0h8m9 0h13m1 0h2m1 0h14m7 0h11m6 0h1m1 0h5m1 0h7m3 0h11m3 0h2m1 0h1m2 0h10m5 0h1m3 0h7m1 0h1m7 0h11m1 0h1m2 0h1m3 0h9M426 730.5h1m3 0h1m1 0h8m1 0h1m2 0h1m3 0h1m2 0h8m1 0h1m3 0h1m2 0h9m1 0h2m5 0h1m1 0h1m1 0h9m6 0h11m1 0h2m5 0h11m2 0h1m5 0h10m6 0h14m5 0h11m1 0h1m7 0h11m8 0h7m1 0h1m6 0h5m1 0h1m1 0h4m1 0h1m6 0h11m3 0h1m3 0h1m1 0h11m5 0h11M431 731.5h9m8 0h13m3 0h1m2 0h7m2 0h2m5 0h1m1 0h2m1 0h7m1 0h1m7 0h10m9 0h8m5 0h1m1 0h2m1 0h10m4 0h1m3 0h5m1 0h4m1 0h1m3 0h1m2 0h11m1 0h3m3 0h12m4 0h12m1 0h2m8 0h1m1 0h7m1 0h1m6 0h10m1 0h1m4 0h12m1 0h1m4 0h1m1 0h3m1 0h6" stroke="#000" stroke-width="1" fill="none"/>
<path d="M426 608.5h1m7 0h3m1 0h8m2 0h1m2 0h1m4 0h7m12 0h9m3 0h1m6 0h6m2 0h1m5 0h1m3 0h6m3 0h2m6 0h8m2 0h1m7 0h1m1 0h6m2 0h1m8 0h6m3 0h1m4 0h2m2 0h6m5 0h1m4 0h1m1 0h2m1 0h7m7 0h1m1 0h5m2 0h1m9 0h8m5 0h1m7 0h4m1 0h1m4 0h2m6 0h7m6 0h1m2 0h4M428 609.5h1m5 0h2m3 0h7m11 0h5m10 0h1m3 0h3m2 0h1m1 0h1m9 0h7m5 0h1m2 0h2m2 0h6m4 0h1m4 0h10m10 0h8m1 0h1m3 0h1m4 0h1m1 0h5m8 0h2m1 0h1m1 0h3m2 0h1m10 0h1m1 0h6m1 0h1m3 0h1m6 0h6m6 0h1m2 0h9m3 0h2m3 0h1m4 0h5m11 0h1m1 0h10m4 0h3m1 0h3M433 610.5h2m4 0h5m13 0h5m3 0h1m7 0h1m2 0h5m13 0h6m9 0h1m2 0h4m13 0h2m1 0h4m5 0h1m4 0h11m1 0h1m8 0h6m5 0h3m2 0h6m1 0h2m6 0h1m6 0h4m5 0h1m7 0h7m2 0h1m6 0h5m3 0h1m2 0h1m7 0h10m9 0h6m8 0h1m2 0h4M427 611.5h1m10 0h6m3 0h2m6 0h8m15 0h3m4 0h1m8 0h6m12 0h4m14 0h6m11 0h4m1 0h2m1 0h1m10 0h7m1 0h1m3 0h1m1 0h1m4 0h7m11 0h6m11 0h8m1 0h2m2 0h1m6 0h3m1 0h1m4 0h1m8 0h6m14 0h3m9 0h1m4 0h2M427 612.5h1m4 0h1m4 0h1m2 0h5m1 0h1m1 0h2m2 0h2m2 0h6m9 0h1m5 0h4m4 0h1m1 0h2m4 0h7m3 0h1m5 0h9m13 0h7m9 0h7m10 0h2m1 0h5m2 0h1m6 0h1m3 0h6m8 0h1m4 0h4m1 0h1m7 0h1m4 0h6m1 0h2m2 0h1m5 0h2m1 0h3m4 0h1m8 0h5m10 0h1m3 0h2m3 0h1m6 0h1m5 0h2M426 613.5h2m2 0h3m2 0h1m5 0h5m7 0h1m2 0h7m8 0h1m3 0h6m13 0h5m4 0h1m6 0h1m2 0h5m14 0h5m5 0h1m5 0h6m12 0h7m1 0h1m1 0h1m8 0h7m11 0h8m11 0h6m7 0h1m4 0h7m2 0h2m2 0h1m4 0h6m8 0h1m3 0h7m6 0h1m5 0h2M439 614.5h6m9 0h9m11 0h8m11 0h6m3 0h1m2 0h1m5 0h2m1 0h4m2 0h1m8 0h7m2 0h2m2 0h5m1 0h8m10 0h7m8 0h1m2 0h9m10 0h6m13 0h7m1 0h1m10 0h6m5 0h2m4 0h6m7 0h2m1 0h1m1 0h6m7 0h1m5 0h2M426 615.5h1m7 0h1m5 0h5m1 0h2m6 0h1m1 0h8m10 0h7m12 0h2m1 0h4m2 0h1m1 0h2m5 0h1m1 0h1m1 0h2m2 0h1m5 0h2m3 0h6m3 0h1m6 0h1m1 0h8m12 0h5m5 0h1m2 0h3m2 0h6m4 0h1m2 0h1m3 0h7m9 0h1m2 0h5m8 0h3m2 0h6m2 0h1m1 0h1m7 0h3m1 0h2m13 0h6m6 0h3m1 0h4M426 616.5h1m11 0h8m4 0h1m5 0h8m11 0h7m12 0h7m1 0h1m10 0h5m3 0h1m8 0h9m10 0h5m11 0h1m1 0h5m14 0h2m1 0h4m11 0h8m4 0h4m1 0h6m14 0h4m1 0h1m8 0h1m2 0h3m1 0h1m14 0h5m6 0h1m1 0h2m3 0h2M438 617.5h7m11 0h7m3 0h2m8 0h5m2 0h1m9 0h8m8 0h1m2 0h6m1 0h1m1 0h1m2 0h1m5 0h7m10 0h8m9 0h2m1 0h6m10 0h1m1 0h7m1 0h1m9 0h7m1 0h1m5 0h3m2 0h6m12 0h5m10 0h9m13 0h8m8 0h1m1 0h2M426 618.5h1m3 0h1m9 0h4m1 0h1m6 0h1m1 0h9m12 0h6m12 0h7m4 0h1m7 0h6m12 0h7m11 0h7m10 0h8m7 0h1m2 0h8m3 0h1m3 0h1m5 0h5m4 0h1m8 0h6m13 0h4m1 0h1m9 0h8m1 0h1m1 0h1m8 0h10m8 0h3M426 619.5h1m6 0h1m4 0h5m1 0h1m11 0h8m4 0h1m7 0h6m1 0h1m1 0h1m2 0h11m1 0h1m10 0h7m8 0h1m3 0h8m11 0h6m4 0h1m3 0h3m1 0h6m1 0h1m9 0h2m2 0h3m2 0h2m1 0h1m1 0h1m3 0h4m1 0h2m3 0h2m8 0h6m2 0h2m9 0h4m4 0h1m5 0h1m2 0h6m5 0h1m3 0h1m3 0h6m12 0h2M432 620.5h1m5 0h7m12 0h6m12 0h6m5 0h1m2 0h1m4 0h6m10 0h1m1 0h1m1 0h4m1 0h1m9 0h8m2 0h2m5 0h1m3 0h5m2 0h1m1 0h1m7 0h6m12 0h2m1 0h3m5 0h1m5 0h11m1 0h2m3 0h8m4 0h1m7 0h7m9 0h2m2 0h3m1 0h1m13 0h6m4 0h1m6 0h3M426 621.5h1m2 0h1m2 0h3m2 0h2m2 0h5m3 0h1m7 0h6m7 0h1m5 0h3m1 0h2m12 0h5m12 0h2m1 0h4m3 0h2m7 0h5m2 0h1m10 0h1m1 0h4m2 0h2m9 0h6m11 0h3m1 0h4m4 0h1m3 0h1m2 0h6m1 0h4m1 0h1m4 0h5m1 0h2m13 0h3m1 0h4m5 0h1m3 0h6m13 0h7m2 0h1m8 0h2M431 622.5h2m6 0h5m1 0h4m7 0h7m12 0h4m1 0h2m11 0h7m11 0h7m8 0h1m1 0h1m1 0h6m12 0h6m2 0h1m8 0h1m1 0h6m12 0h1m1 0h4m10 0h1m2 0h6m12 0h5m2 0h2m3 0h1m5 0h1m1 0h4m1 0h1m5 0h2m3 0h7m4 0h1m5 0h8m3 0h1m8 0h2M432 623.5h1m5 0h7m11 0h1m1 0h6m7 0h1m3 0h6m11 0h1m1 0h7m11 0h7m8 0h1m2 0h7m12 0h5m12 0h9m7 0h2m1 0h6m12 0h6m1 0h1m2 0h1m3 0h1m3 0h1m1 0h4m14 0h5m7 0h1m5 0h6m13 0h6m2 0h1m3 0h1m4 0h2M433 624.5h1m3 0h7m1 0h1m11 0h7m5 0h1m6 0h5m8 0h1m3 0h7m3 0h1m9 0h5m1 0h1m2 0h1m5 0h1m1 0h6m13 0h5m3 0h1m9 0h6m1 0h2m9 0h7m5 0h1m5 0h4m1 0h2m3 0h1m9 0h5m12 0h6m12 0h7m8 0h1m2 0h8m6 0h1m4 0h2M427 625.5h1m5 0h1m3 0h4m1 0h4m12 0h5m8 0h1m3 0h6m8 0h1m3 0h7m3 0h1m4 0h1m2 0h6m4 0h1m4 0h1m3 0h7m4 0h1m6 0h6m1 0h2m6 0h3m1 0h6m13 0h5m5 0h3m1 0h1m2 0h6m5 0h1m5 0h8m12 0h6m12 0h7m6 0h1m1 0h1m1 0h8m5 0h1m4 0h4M426 626.5h1m12 0h1m1 0h3m12 0h1m1 0h5m4 0h1m5 0h1m2 0h6m11 0h8m11 0h5m1 0h1m4 0h1m2 0h1m3 0h6m5 0h1m1 0h1m2 0h1m1 0h6m1 0h1m3 0h2m5 0h7m2 0h2m10 0h7m1 0h3m5 0h7m11 0h7m6 0h4m1 0h1m1 0h5m2 0h1m9 0h7m11 0h7m11 0h2M426 627.5h2m4 0h1m6 0h1m1 0h3m8 0h1m4 0h6m10 0h1m1 0h9m9 0h8m10 0h8m5 0h2m2 0h8m5 0h2m6 0h6m10 0h12m4 0h1m4 0h5m4 0h1m7 0h5m14 0h6m13 0h3m1 0h1m12 0h6m6 0h1m1 0h1m2 0h8m12 0h2M426 628.5h3m9 0h1m1 0h1m1 0h4m10 0h2m1 0h4m1 0h2m9 0h9m3 0h5m2 0h7m11 0h7m1 0h1m8 0h6m13 0h5m6 0h1m2 0h1m2 0h7m12 0h8m11 0h1m1 0h5m3 0h2m6 0h11m6 0h1m2 0h6m12 0h5m5 0h1m6 0h5m8 0h1m3 0h2m1 0h1M427 629.5h1m10 0h8m11 0h1m1 0h4m2 0h1m9 0h6m1 0h1m9 0h1m1 0h3m1 0h3m11 0h5m1 0h1m1 0h1m8 0h1m1 0h4m1 0h1m11 0h6m7 0h2m1 0h5m1 0h2m1 0h1m5 0h2m5 0h4m4 0h2m4 0h1m2 0h1m1 0h5m1 0h1m11 0h8m2 0h1m5 0h8m2 0h1m1 0h1m7 0h6m4 0h2m5 0h6m1 0h1m10 0h3M438 630.5h9m4 0h2m3 0h1m1 0h6m11 0h9m1 0h1m6 0h1m1 0h3m1 0h1m7 0h1m4 0h3m1 0h3m12 0h7m11 0h5m1 0h1m6 0h1m8 0h3m5 0h1m6 0h7m1 0h3m7 0h10m8 0h6m2 0h1m9 0h10m8 0h1m1 0h5m13 0h5m12 0h3M426 631.5h2m8 0h1m2 0h6m3 0h1m2 0h1m5 0h5m1 0h1m4 0h2m3 0h1m1 0h7m2 0h2m8 0h5m12 0h1m3 0h3m1 0h1m4 0h2m2 0h2m1 0h5m11 0h1m1 0h4m1 0h2m2 0h2m4 0h1m3 0h5m1 0h1m11 0h6m11 0h11m1 0h1m5 0h2m1 0h3m1 0h2m4 0h2m4 0h6m5 0h1m7 0h6m8 0h1m2 0h7m10 0h4M426 632.5h1m9 0h8m15 0h3m3 0h1m9 0h7m3 0h1m5 0h2m1 0h1m1 0h4m10 0h1m1 0h1m1 0h5m12 0h3m8 0h2m4 0h5m4 0h3m5 0h2m1 0h4m1 0h1m4 0h1m6 0h7m6 0h1m4 0h9m3 0h2m4 0h1m2 0h4m1 0h1m8 0h8m1 0h1m11 0h4m1 0h1m4 0h1m1 0h1m1 0h1m2 0h3m1 0h3m9 0h1m2 0h2" stroke="#f01010" stroke-width="1" fill="none"/>
</g>
<line x1="426.0" y1="608.4" x2="697.5" y2="608.4" stroke="#8c8c8c" stroke-width="1"/>
<text x="363.0" y="596.7" font-size="16" font-weight="bold" fill="#000">G</text>
<line x1="426.0" y1="731.3" x2="426.0" y2="728.6999999999999" stroke="#8c8c8c" stroke-width="1"/>
<line x1="426.0" y1="608.4" x2="426.0" y2="611.0" stroke="#8c8c8c" stroke-width="1"/>
<text x="426.0" y="746.6" font-size="11.3" text-anchor="middle" fill="#262626">24</text>
<line x1="493.875" y1="731.3" x2="493.875" y2="728.6999999999999" stroke="#8c8c8c" stroke-width="1"/>
<line x1="493.875" y1="608.4" x2="493.875" y2="611.0" stroke="#8c8c8c" stroke-width="1"/>
<text x="493.88" y="746.6" font-size="11.3" text-anchor="middle" fill="#262626">24.1</text>
<line x1="561.75" y1="731.3" x2="561.75" y2="728.6999999999999" stroke="#8c8c8c" stroke-width="1"/>
<line x1="561.75" y1="608.4" x2="561.75" y2="611.0" stroke="#8c8c8c" stroke-width="1"/>
<text x="561.75" y="746.6" font-size="11.3" text-anchor="middle" fill="#262626">24.2</text>
<line x1="629.625" y1="731.3" x2="629.625" y2="728.6999999999999" stroke="#8c8c8c" stroke-width="1"/>
<line x1="629.625" y1="608.4" x2="629.625" y2="611.0" stroke="#8c8c8c" stroke-width="1"/>
<text x="629.62" y="746.6" font-size="11.3" text-anchor="middle" fill="#262626">24.3</text>
<line x1="697.5" y1="731.3" x2="697.5" y2="728.6999999999999" stroke="#8c8c8c" stroke-width="1"/>
<line x1="697.5" y1="608.4" x2="697.5" y2="611.0" stroke="#8c8c8c" stroke-width="1"/>
<text x="697.5" y="746.6" font-size="11.3" text-anchor="middle" fill="#262626">24.4</text>
<line x1="426.0" y1="700.5749999999999" x2="428.6" y2="700.5749999999999" stroke="#8c8c8c" stroke-width="1"/>
<line x1="697.5" y1="700.5749999999999" x2="694.9" y2="700.5749999999999" stroke="#8c8c8c" stroke-width="1"/>
<text x="420.6" y="705.67" font-size="11.3" text-anchor="end" fill="#262626">500</text>
<line x1="426.0" y1="669.8499999999999" x2="428.6" y2="669.8499999999999" stroke="#8c8c8c" stroke-width="1"/>
<line x1="697.5" y1="669.8499999999999" x2="694.9" y2="669.8499999999999" stroke="#8c8c8c" stroke-width="1"/>
<text x="420.6" y="674.95" font-size="11.3" text-anchor="end" fill="#262626">1000</text>
<line x1="426.0" y1="639.125" x2="428.6" y2="639.125" stroke="#8c8c8c" stroke-width="1"/>
<line x1="697.5" y1="639.125" x2="694.9" y2="639.125" stroke="#8c8c8c" stroke-width="1"/>
<text x="420.6" y="644.23" font-size="11.3" text-anchor="end" fill="#262626">1500</text>
<line x1="426.0" y1="608.4" x2="428.6" y2="608.4" stroke="#8c8c8c" stroke-width="1"/>
<line x1="697.5" y1="608.4" x2="694.9" y2="608.4" stroke="#8c8c8c" stroke-width="1"/>
<text x="420.6" y="613.5" font-size="11.3" text-anchor="end" fill="#262626">2000</text>
<text x="531.8" y="763.4" font-size="12.6" textLength="59.9" lengthAdjust="spacingAndGlyphs" fill="#262626">Time (sec)</text>
<g transform="translate(390.4,707.949) rotate(-90)">
<text x="0" y="0" font-size="12.6" textLength="76.6" lengthAdjust="spacingAndGlyphs" fill="#262626">Neuron Index</text>
</g></svg></body></html>
